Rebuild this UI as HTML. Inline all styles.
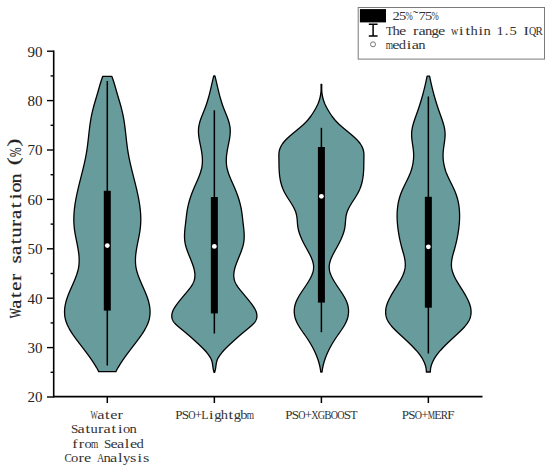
<!DOCTYPE html>
<html><head><meta charset="utf-8"><style>
html,body{margin:0;padding:0;background:#fff;width:550px;height:473px;overflow:hidden;}
svg{display:block;font-family:"Liberation Serif",serif;}
</style></head><body>
<svg width="550" height="473" viewBox="0 0 550 473">
<path d="M111.77,76.30 L111.96,76.80 L112.15,77.30 L112.34,77.80 L112.52,78.30 L112.70,78.80 L112.88,79.30 L113.05,79.80 L113.22,80.30 L113.39,80.80 L113.55,81.30 L113.71,81.80 L113.87,82.30 L114.02,82.80 L114.18,83.30 L114.33,83.80 L114.48,84.30 L114.63,84.80 L114.78,85.30 L114.92,85.80 L115.06,86.30 L115.21,86.80 L115.35,87.30 L115.49,87.80 L115.63,88.30 L115.77,88.80 L115.91,89.30 L116.06,89.80 L116.20,90.30 L116.34,90.80 L116.48,91.30 L116.62,91.80 L116.76,92.30 L116.91,92.80 L117.05,93.30 L117.20,93.80 L117.34,94.30 L117.49,94.80 L117.64,95.30 L117.79,95.80 L117.94,96.30 L118.09,96.80 L118.24,97.30 L118.39,97.80 L118.53,98.30 L118.68,98.80 L118.83,99.30 L118.98,99.80 L119.13,100.30 L119.28,100.80 L119.43,101.30 L119.58,101.80 L119.73,102.30 L119.87,102.80 L120.02,103.30 L120.16,103.80 L120.31,104.30 L120.45,104.80 L120.59,105.30 L120.73,105.80 L120.87,106.30 L121.01,106.80 L121.15,107.30 L121.28,107.80 L121.41,108.30 L121.55,108.80 L121.67,109.30 L121.80,109.80 L121.93,110.30 L122.05,110.80 L122.17,111.30 L122.29,111.80 L122.41,112.30 L122.52,112.80 L122.63,113.30 L122.74,113.80 L122.85,114.30 L122.95,114.80 L123.06,115.30 L123.16,115.80 L123.25,116.30 L123.35,116.80 L123.44,117.30 L123.53,117.80 L123.62,118.30 L123.71,118.80 L123.80,119.30 L123.88,119.80 L123.96,120.30 L124.05,120.80 L124.13,121.30 L124.20,121.80 L124.28,122.30 L124.35,122.80 L124.43,123.30 L124.50,123.80 L124.57,124.30 L124.64,124.80 L124.71,125.30 L124.77,125.80 L124.84,126.30 L124.90,126.80 L124.97,127.30 L125.03,127.80 L125.09,128.30 L125.15,128.80 L125.21,129.30 L125.27,129.80 L125.33,130.30 L125.39,130.80 L125.45,131.30 L125.51,131.80 L125.56,132.30 L125.62,132.80 L125.68,133.30 L125.73,133.80 L125.79,134.30 L125.84,134.80 L125.90,135.30 L125.95,135.80 L126.01,136.30 L126.06,136.80 L126.12,137.30 L126.17,137.80 L126.23,138.30 L126.29,138.80 L126.34,139.30 L126.40,139.80 L126.46,140.30 L126.51,140.80 L126.57,141.30 L126.63,141.80 L126.69,142.30 L126.75,142.80 L126.81,143.30 L126.87,143.80 L126.93,144.30 L126.99,144.80 L127.06,145.30 L127.12,145.80 L127.19,146.30 L127.25,146.80 L127.32,147.30 L127.39,147.80 L127.46,148.30 L127.53,148.80 L127.61,149.30 L127.68,149.80 L127.76,150.30 L127.83,150.80 L127.91,151.30 L127.99,151.80 L128.08,152.30 L128.16,152.80 L128.25,153.30 L128.33,153.80 L128.42,154.30 L128.51,154.80 L128.60,155.30 L128.70,155.80 L128.79,156.30 L128.89,156.80 L128.99,157.30 L129.09,157.80 L129.19,158.30 L129.29,158.80 L129.39,159.30 L129.50,159.80 L129.61,160.30 L129.71,160.80 L129.82,161.30 L129.93,161.80 L130.04,162.30 L130.15,162.80 L130.27,163.30 L130.38,163.80 L130.49,164.30 L130.61,164.80 L130.73,165.30 L130.84,165.80 L130.96,166.30 L131.08,166.80 L131.20,167.30 L131.32,167.80 L131.44,168.30 L131.56,168.80 L131.68,169.30 L131.81,169.80 L131.93,170.30 L132.05,170.80 L132.18,171.30 L132.30,171.80 L132.43,172.30 L132.55,172.80 L132.68,173.30 L132.80,173.80 L132.93,174.30 L133.06,174.80 L133.18,175.30 L133.31,175.80 L133.43,176.30 L133.56,176.80 L133.69,177.30 L133.81,177.80 L133.94,178.30 L134.07,178.80 L134.19,179.30 L134.32,179.80 L134.45,180.30 L134.57,180.80 L134.70,181.30 L134.82,181.80 L134.95,182.30 L135.07,182.80 L135.20,183.30 L135.32,183.80 L135.44,184.30 L135.57,184.80 L135.69,185.30 L135.81,185.80 L135.93,186.30 L136.05,186.80 L136.17,187.30 L136.29,187.80 L136.41,188.30 L136.53,188.80 L136.64,189.30 L136.76,189.80 L136.87,190.30 L136.99,190.80 L137.10,191.30 L137.21,191.80 L137.32,192.30 L137.43,192.80 L137.54,193.30 L137.65,193.80 L137.75,194.30 L137.86,194.80 L137.96,195.30 L138.07,195.80 L138.17,196.30 L138.27,196.80 L138.37,197.30 L138.46,197.80 L138.56,198.30 L138.65,198.80 L138.74,199.30 L138.84,199.80 L138.92,200.30 L139.01,200.80 L139.10,201.30 L139.18,201.80 L139.27,202.30 L139.35,202.80 L139.43,203.30 L139.50,203.80 L139.58,204.30 L139.65,204.80 L139.72,205.30 L139.79,205.80 L139.86,206.30 L139.92,206.80 L139.99,207.30 L140.05,207.80 L140.11,208.30 L140.16,208.80 L140.22,209.30 L140.27,209.80 L140.32,210.30 L140.37,210.80 L140.41,211.30 L140.45,211.80 L140.49,212.30 L140.53,212.80 L140.57,213.30 L140.60,213.80 L140.63,214.30 L140.66,214.80 L140.68,215.30 L140.70,215.80 L140.72,216.30 L140.74,216.80 L140.75,217.30 L140.76,217.80 L140.77,218.30 L140.78,218.80 L140.78,219.30 L140.78,219.80 L140.77,220.30 L140.77,220.80 L140.76,221.30 L140.74,221.80 L140.73,222.30 L140.71,222.80 L140.68,223.30 L140.66,223.80 L140.63,224.30 L140.59,224.80 L140.56,225.30 L140.52,225.80 L140.48,226.30 L140.43,226.80 L140.38,227.30 L140.33,227.80 L140.27,228.30 L140.21,228.80 L140.14,229.30 L140.08,229.80 L140.01,230.30 L139.93,230.80 L139.86,231.30 L139.78,231.80 L139.70,232.30 L139.62,232.80 L139.53,233.30 L139.45,233.80 L139.36,234.30 L139.27,234.80 L139.18,235.30 L139.08,235.80 L138.99,236.30 L138.89,236.80 L138.79,237.30 L138.70,237.80 L138.60,238.30 L138.50,238.80 L138.40,239.30 L138.30,239.80 L138.20,240.30 L138.09,240.80 L137.99,241.30 L137.89,241.80 L137.79,242.30 L137.69,242.80 L137.59,243.30 L137.49,243.80 L137.39,244.30 L137.30,244.80 L137.20,245.30 L137.10,245.80 L137.01,246.30 L136.92,246.80 L136.83,247.30 L136.74,247.80 L136.65,248.30 L136.56,248.80 L136.48,249.30 L136.40,249.80 L136.32,250.30 L136.24,250.80 L136.17,251.30 L136.10,251.80 L136.03,252.30 L135.96,252.80 L135.90,253.30 L135.84,253.80 L135.79,254.30 L135.74,254.80 L135.69,255.30 L135.64,255.80 L135.60,256.30 L135.57,256.80 L135.54,257.30 L135.51,257.80 L135.49,258.30 L135.47,258.80 L135.45,259.30 L135.44,259.80 L135.44,260.30 L135.44,260.80 L135.45,261.30 L135.46,261.80 L135.48,262.30 L135.50,262.80 L135.53,263.30 L135.57,263.80 L135.61,264.30 L135.66,264.80 L135.71,265.30 L135.77,265.80 L135.84,266.30 L135.91,266.80 L135.99,267.30 L136.08,267.80 L136.17,268.30 L136.28,268.80 L136.38,269.30 L136.50,269.80 L136.62,270.30 L136.75,270.80 L136.88,271.30 L137.02,271.80 L137.16,272.30 L137.31,272.80 L137.46,273.30 L137.62,273.80 L137.79,274.30 L137.95,274.80 L138.13,275.30 L138.30,275.80 L138.48,276.30 L138.67,276.80 L138.86,277.30 L139.05,277.80 L139.24,278.30 L139.44,278.80 L139.64,279.30 L139.85,279.80 L140.05,280.30 L140.26,280.80 L140.47,281.30 L140.68,281.80 L140.90,282.30 L141.11,282.80 L141.33,283.30 L141.55,283.80 L141.77,284.30 L141.99,284.80 L142.21,285.30 L142.43,285.80 L142.65,286.30 L142.87,286.80 L143.10,287.30 L143.32,287.80 L143.54,288.30 L143.76,288.80 L143.98,289.30 L144.19,289.80 L144.41,290.30 L144.63,290.80 L144.84,291.30 L145.05,291.80 L145.26,292.30 L145.47,292.80 L145.68,293.30 L145.88,293.80 L146.08,294.30 L146.28,294.80 L146.47,295.30 L146.67,295.80 L146.85,296.30 L147.04,296.80 L147.22,297.30 L147.39,297.80 L147.57,298.30 L147.73,298.80 L147.90,299.30 L148.06,299.80 L148.21,300.30 L148.36,300.80 L148.50,301.30 L148.64,301.80 L148.77,302.30 L148.90,302.80 L149.02,303.30 L149.13,303.80 L149.24,304.30 L149.34,304.80 L149.44,305.30 L149.52,305.80 L149.61,306.30 L149.68,306.80 L149.75,307.30 L149.81,307.80 L149.87,308.30 L149.92,308.80 L149.96,309.30 L149.99,309.80 L150.02,310.30 L150.04,310.80 L150.05,311.30 L150.06,311.80 L150.06,312.30 L150.04,312.80 L150.03,313.30 L150.00,313.80 L149.97,314.30 L149.93,314.80 L149.88,315.30 L149.82,315.80 L149.75,316.30 L149.68,316.80 L149.60,317.30 L149.51,317.80 L149.41,318.30 L149.30,318.80 L149.18,319.30 L149.05,319.80 L148.92,320.30 L148.78,320.80 L148.62,321.30 L148.46,321.80 L148.29,322.30 L148.11,322.80 L147.92,323.30 L147.72,323.80 L147.51,324.30 L147.30,324.80 L147.07,325.30 L146.84,325.80 L146.60,326.30 L146.35,326.80 L146.10,327.30 L145.83,327.80 L145.56,328.30 L145.28,328.80 L145.00,329.30 L144.71,329.80 L144.41,330.30 L144.11,330.80 L143.80,331.30 L143.49,331.80 L143.17,332.30 L142.85,332.80 L142.52,333.30 L142.18,333.80 L141.85,334.30 L141.50,334.80 L141.16,335.30 L140.81,335.80 L140.45,336.30 L140.09,336.80 L139.73,337.30 L139.37,337.80 L139.00,338.30 L138.64,338.80 L138.26,339.30 L137.89,339.80 L137.52,340.30 L137.14,340.80 L136.76,341.30 L136.38,341.80 L136.00,342.30 L135.62,342.80 L135.24,343.30 L134.86,343.80 L134.47,344.30 L134.09,344.80 L133.71,345.30 L133.32,345.80 L132.94,346.30 L132.56,346.80 L132.18,347.30 L131.79,347.80 L131.41,348.30 L131.03,348.80 L130.65,349.30 L130.27,349.80 L129.89,350.30 L129.51,350.80 L129.13,351.30 L128.75,351.80 L128.38,352.30 L128.00,352.80 L127.63,353.30 L127.26,353.80 L126.89,354.30 L126.52,354.80 L126.16,355.30 L125.79,355.80 L125.43,356.30 L125.07,356.80 L124.72,357.30 L124.36,357.80 L124.01,358.30 L123.66,358.80 L123.31,359.30 L122.97,359.80 L122.63,360.30 L122.29,360.80 L121.96,361.30 L121.62,361.80 L121.30,362.30 L120.97,362.80 L120.65,363.30 L120.33,363.80 L120.02,364.30 L119.71,364.80 L119.40,365.30 L119.10,365.80 L118.80,366.30 L118.51,366.80 L118.22,367.30 L117.93,367.80 L117.65,368.30 L117.38,368.80 L117.11,369.30 L116.84,369.80 L116.58,370.30 L116.33,370.80 L116.08,371.30 L115.93,371.60 L98.67,371.60 L98.52,371.30 L98.27,370.80 L98.02,370.30 L97.76,369.80 L97.49,369.30 L97.22,368.80 L96.95,368.30 L96.67,367.80 L96.38,367.30 L96.09,366.80 L95.80,366.30 L95.50,365.80 L95.20,365.30 L94.89,364.80 L94.58,364.30 L94.27,363.80 L93.95,363.30 L93.63,362.80 L93.30,362.30 L92.98,361.80 L92.64,361.30 L92.31,360.80 L91.97,360.30 L91.63,359.80 L91.29,359.30 L90.94,358.80 L90.59,358.30 L90.24,357.80 L89.88,357.30 L89.53,356.80 L89.17,356.30 L88.81,355.80 L88.44,355.30 L88.08,354.80 L87.71,354.30 L87.34,353.80 L86.97,353.30 L86.60,352.80 L86.22,352.30 L85.85,351.80 L85.47,351.30 L85.09,350.80 L84.71,350.30 L84.33,349.80 L83.95,349.30 L83.57,348.80 L83.19,348.30 L82.81,347.80 L82.42,347.30 L82.04,346.80 L81.66,346.30 L81.28,345.80 L80.89,345.30 L80.51,344.80 L80.13,344.30 L79.74,343.80 L79.36,343.30 L78.98,342.80 L78.60,342.30 L78.22,341.80 L77.84,341.30 L77.46,340.80 L77.08,340.30 L76.71,339.80 L76.34,339.30 L75.96,338.80 L75.60,338.30 L75.23,337.80 L74.87,337.30 L74.51,336.80 L74.15,336.30 L73.79,335.80 L73.44,335.30 L73.10,334.80 L72.75,334.30 L72.42,333.80 L72.08,333.30 L71.75,332.80 L71.43,332.30 L71.11,331.80 L70.80,331.30 L70.49,330.80 L70.19,330.30 L69.89,329.80 L69.60,329.30 L69.32,328.80 L69.04,328.30 L68.77,327.80 L68.50,327.30 L68.25,326.80 L68.00,326.30 L67.76,325.80 L67.53,325.30 L67.30,324.80 L67.09,324.30 L66.88,323.80 L66.68,323.30 L66.49,322.80 L66.31,322.30 L66.14,321.80 L65.98,321.30 L65.82,320.80 L65.68,320.30 L65.55,319.80 L65.42,319.30 L65.30,318.80 L65.19,318.30 L65.09,317.80 L65.00,317.30 L64.92,316.80 L64.85,316.30 L64.78,315.80 L64.72,315.30 L64.67,314.80 L64.63,314.30 L64.60,313.80 L64.57,313.30 L64.56,312.80 L64.54,312.30 L64.54,311.80 L64.55,311.30 L64.56,310.80 L64.58,310.30 L64.61,309.80 L64.64,309.30 L64.68,308.80 L64.73,308.30 L64.79,307.80 L64.85,307.30 L64.92,306.80 L64.99,306.30 L65.08,305.80 L65.16,305.30 L65.26,304.80 L65.36,304.30 L65.47,303.80 L65.58,303.30 L65.70,302.80 L65.83,302.30 L65.96,301.80 L66.10,301.30 L66.24,300.80 L66.39,300.30 L66.54,299.80 L66.70,299.30 L66.87,298.80 L67.03,298.30 L67.21,297.80 L67.38,297.30 L67.56,296.80 L67.75,296.30 L67.93,295.80 L68.13,295.30 L68.32,294.80 L68.52,294.30 L68.72,293.80 L68.92,293.30 L69.13,292.80 L69.34,292.30 L69.55,291.80 L69.76,291.30 L69.97,290.80 L70.19,290.30 L70.41,289.80 L70.62,289.30 L70.84,288.80 L71.06,288.30 L71.28,287.80 L71.50,287.30 L71.73,286.80 L71.95,286.30 L72.17,285.80 L72.39,285.30 L72.61,284.80 L72.83,284.30 L73.05,283.80 L73.27,283.30 L73.49,282.80 L73.70,282.30 L73.92,281.80 L74.13,281.30 L74.34,280.80 L74.55,280.30 L74.75,279.80 L74.96,279.30 L75.16,278.80 L75.36,278.30 L75.55,277.80 L75.74,277.30 L75.93,276.80 L76.12,276.30 L76.30,275.80 L76.47,275.30 L76.65,274.80 L76.81,274.30 L76.98,273.80 L77.14,273.30 L77.29,272.80 L77.44,272.30 L77.58,271.80 L77.72,271.30 L77.85,270.80 L77.98,270.30 L78.10,269.80 L78.22,269.30 L78.32,268.80 L78.43,268.30 L78.52,267.80 L78.61,267.30 L78.69,266.80 L78.76,266.30 L78.83,265.80 L78.89,265.30 L78.94,264.80 L78.99,264.30 L79.03,263.80 L79.07,263.30 L79.10,262.80 L79.12,262.30 L79.14,261.80 L79.15,261.30 L79.16,260.80 L79.16,260.30 L79.16,259.80 L79.15,259.30 L79.13,258.80 L79.11,258.30 L79.09,257.80 L79.06,257.30 L79.03,256.80 L79.00,256.30 L78.96,255.80 L78.91,255.30 L78.86,254.80 L78.81,254.30 L78.76,253.80 L78.70,253.30 L78.64,252.80 L78.57,252.30 L78.50,251.80 L78.43,251.30 L78.36,250.80 L78.28,250.30 L78.20,249.80 L78.12,249.30 L78.04,248.80 L77.95,248.30 L77.86,247.80 L77.77,247.30 L77.68,246.80 L77.59,246.30 L77.50,245.80 L77.40,245.30 L77.30,244.80 L77.21,244.30 L77.11,243.80 L77.01,243.30 L76.91,242.80 L76.81,242.30 L76.71,241.80 L76.61,241.30 L76.51,240.80 L76.40,240.30 L76.30,239.80 L76.20,239.30 L76.10,238.80 L76.00,238.30 L75.90,237.80 L75.81,237.30 L75.71,236.80 L75.61,236.30 L75.52,235.80 L75.42,235.30 L75.33,234.80 L75.24,234.30 L75.15,233.80 L75.07,233.30 L74.98,232.80 L74.90,232.30 L74.82,231.80 L74.74,231.30 L74.67,230.80 L74.59,230.30 L74.52,229.80 L74.46,229.30 L74.39,228.80 L74.33,228.30 L74.27,227.80 L74.22,227.30 L74.17,226.80 L74.12,226.30 L74.08,225.80 L74.04,225.30 L74.01,224.80 L73.97,224.30 L73.94,223.80 L73.92,223.30 L73.89,222.80 L73.87,222.30 L73.86,221.80 L73.84,221.30 L73.83,220.80 L73.83,220.30 L73.82,219.80 L73.82,219.30 L73.82,218.80 L73.83,218.30 L73.84,217.80 L73.85,217.30 L73.86,216.80 L73.88,216.30 L73.90,215.80 L73.92,215.30 L73.94,214.80 L73.97,214.30 L74.00,213.80 L74.03,213.30 L74.07,212.80 L74.11,212.30 L74.15,211.80 L74.19,211.30 L74.23,210.80 L74.28,210.30 L74.33,209.80 L74.38,209.30 L74.44,208.80 L74.49,208.30 L74.55,207.80 L74.61,207.30 L74.68,206.80 L74.74,206.30 L74.81,205.80 L74.88,205.30 L74.95,204.80 L75.02,204.30 L75.10,203.80 L75.17,203.30 L75.25,202.80 L75.33,202.30 L75.42,201.80 L75.50,201.30 L75.59,200.80 L75.68,200.30 L75.76,199.80 L75.86,199.30 L75.95,198.80 L76.04,198.30 L76.14,197.80 L76.23,197.30 L76.33,196.80 L76.43,196.30 L76.53,195.80 L76.64,195.30 L76.74,194.80 L76.85,194.30 L76.95,193.80 L77.06,193.30 L77.17,192.80 L77.28,192.30 L77.39,191.80 L77.50,191.30 L77.61,190.80 L77.73,190.30 L77.84,189.80 L77.96,189.30 L78.07,188.80 L78.19,188.30 L78.31,187.80 L78.43,187.30 L78.55,186.80 L78.67,186.30 L78.79,185.80 L78.91,185.30 L79.03,184.80 L79.16,184.30 L79.28,183.80 L79.40,183.30 L79.53,182.80 L79.65,182.30 L79.78,181.80 L79.90,181.30 L80.03,180.80 L80.15,180.30 L80.28,179.80 L80.41,179.30 L80.53,178.80 L80.66,178.30 L80.79,177.80 L80.91,177.30 L81.04,176.80 L81.17,176.30 L81.29,175.80 L81.42,175.30 L81.54,174.80 L81.67,174.30 L81.80,173.80 L81.92,173.30 L82.05,172.80 L82.17,172.30 L82.30,171.80 L82.42,171.30 L82.55,170.80 L82.67,170.30 L82.79,169.80 L82.92,169.30 L83.04,168.80 L83.16,168.30 L83.28,167.80 L83.40,167.30 L83.52,166.80 L83.64,166.30 L83.76,165.80 L83.87,165.30 L83.99,164.80 L84.11,164.30 L84.22,163.80 L84.33,163.30 L84.45,162.80 L84.56,162.30 L84.67,161.80 L84.78,161.30 L84.89,160.80 L84.99,160.30 L85.10,159.80 L85.21,159.30 L85.31,158.80 L85.41,158.30 L85.51,157.80 L85.61,157.30 L85.71,156.80 L85.81,156.30 L85.90,155.80 L86.00,155.30 L86.09,154.80 L86.18,154.30 L86.27,153.80 L86.35,153.30 L86.44,152.80 L86.52,152.30 L86.61,151.80 L86.69,151.30 L86.77,150.80 L86.84,150.30 L86.92,149.80 L86.99,149.30 L87.07,148.80 L87.14,148.30 L87.21,147.80 L87.28,147.30 L87.35,146.80 L87.41,146.30 L87.48,145.80 L87.54,145.30 L87.61,144.80 L87.67,144.30 L87.73,143.80 L87.79,143.30 L87.85,142.80 L87.91,142.30 L87.97,141.80 L88.03,141.30 L88.09,140.80 L88.14,140.30 L88.20,139.80 L88.26,139.30 L88.31,138.80 L88.37,138.30 L88.43,137.80 L88.48,137.30 L88.54,136.80 L88.59,136.30 L88.65,135.80 L88.70,135.30 L88.76,134.80 L88.81,134.30 L88.87,133.80 L88.92,133.30 L88.98,132.80 L89.04,132.30 L89.09,131.80 L89.15,131.30 L89.21,130.80 L89.27,130.30 L89.33,129.80 L89.39,129.30 L89.45,128.80 L89.51,128.30 L89.57,127.80 L89.63,127.30 L89.70,126.80 L89.76,126.30 L89.83,125.80 L89.89,125.30 L89.96,124.80 L90.03,124.30 L90.10,123.80 L90.17,123.30 L90.25,122.80 L90.32,122.30 L90.40,121.80 L90.47,121.30 L90.55,120.80 L90.64,120.30 L90.72,119.80 L90.80,119.30 L90.89,118.80 L90.98,118.30 L91.07,117.80 L91.16,117.30 L91.25,116.80 L91.35,116.30 L91.44,115.80 L91.54,115.30 L91.65,114.80 L91.75,114.30 L91.86,113.80 L91.97,113.30 L92.08,112.80 L92.19,112.30 L92.31,111.80 L92.43,111.30 L92.55,110.80 L92.67,110.30 L92.80,109.80 L92.93,109.30 L93.05,108.80 L93.19,108.30 L93.32,107.80 L93.45,107.30 L93.59,106.80 L93.73,106.30 L93.87,105.80 L94.01,105.30 L94.15,104.80 L94.29,104.30 L94.44,103.80 L94.58,103.30 L94.73,102.80 L94.87,102.30 L95.02,101.80 L95.17,101.30 L95.32,100.80 L95.47,100.30 L95.62,99.80 L95.77,99.30 L95.92,98.80 L96.07,98.30 L96.21,97.80 L96.36,97.30 L96.51,96.80 L96.66,96.30 L96.81,95.80 L96.96,95.30 L97.11,94.80 L97.26,94.30 L97.40,93.80 L97.55,93.30 L97.69,92.80 L97.84,92.30 L97.98,91.80 L98.12,91.30 L98.26,90.80 L98.40,90.30 L98.54,89.80 L98.69,89.30 L98.83,88.80 L98.97,88.30 L99.11,87.80 L99.25,87.30 L99.39,86.80 L99.54,86.30 L99.68,85.80 L99.82,85.30 L99.97,84.80 L100.12,84.30 L100.27,83.80 L100.42,83.30 L100.58,82.80 L100.73,82.30 L100.89,81.80 L101.05,81.30 L101.21,80.80 L101.38,80.30 L101.55,79.80 L101.72,79.30 L101.90,78.80 L102.08,78.30 L102.26,77.80 L102.45,77.30 L102.64,76.80 L102.83,76.30 Z" fill="#689C9C" stroke="#000" stroke-width="1.3" stroke-linejoin="round"/>
<line x1="107.30" y1="81.00" x2="107.30" y2="365.60" stroke="#000" stroke-width="1.5"/>
<rect x="103.80" y="190.80" width="7" height="119.80" fill="#000"/>
<circle cx="107.30" cy="245.60" r="2.4" fill="#fff"/>
<path d="M214.93,75.80 L215.06,76.30 L215.18,76.80 L215.30,77.30 L215.43,77.80 L215.55,78.30 L215.67,78.80 L215.79,79.30 L215.91,79.80 L216.03,80.30 L216.14,80.80 L216.26,81.30 L216.38,81.80 L216.49,82.30 L216.61,82.80 L216.72,83.30 L216.84,83.80 L216.95,84.30 L217.07,84.80 L217.18,85.30 L217.30,85.80 L217.41,86.30 L217.53,86.80 L217.64,87.30 L217.76,87.80 L217.88,88.30 L217.99,88.80 L218.11,89.30 L218.23,89.80 L218.35,90.30 L218.47,90.80 L218.59,91.30 L218.71,91.80 L218.83,92.30 L218.95,92.80 L219.08,93.30 L219.20,93.80 L219.33,94.30 L219.46,94.80 L219.59,95.30 L219.72,95.80 L219.85,96.30 L219.99,96.80 L220.12,97.30 L220.26,97.80 L220.40,98.30 L220.54,98.80 L220.68,99.30 L220.83,99.80 L220.98,100.30 L221.13,100.80 L221.28,101.30 L221.43,101.80 L221.59,102.30 L221.75,102.80 L221.91,103.30 L222.08,103.80 L222.24,104.30 L222.41,104.80 L222.58,105.30 L222.76,105.80 L222.94,106.30 L223.12,106.80 L223.30,107.30 L223.49,107.80 L223.68,108.30 L223.88,108.80 L224.07,109.30 L224.27,109.80 L224.47,110.30 L224.67,110.80 L224.87,111.30 L225.08,111.80 L225.28,112.30 L225.48,112.80 L225.69,113.30 L225.89,113.80 L226.09,114.30 L226.29,114.80 L226.49,115.30 L226.69,115.80 L226.89,116.30 L227.08,116.80 L227.27,117.30 L227.46,117.80 L227.64,118.30 L227.82,118.80 L228.00,119.30 L228.17,119.80 L228.34,120.30 L228.50,120.80 L228.66,121.30 L228.81,121.80 L228.96,122.30 L229.10,122.80 L229.23,123.30 L229.36,123.80 L229.48,124.30 L229.59,124.80 L229.69,125.30 L229.79,125.80 L229.87,126.30 L229.95,126.80 L230.02,127.30 L230.08,127.80 L230.13,128.30 L230.17,128.80 L230.20,129.30 L230.23,129.80 L230.24,130.30 L230.25,130.80 L230.25,131.30 L230.24,131.80 L230.23,132.30 L230.21,132.80 L230.18,133.30 L230.15,133.80 L230.11,134.30 L230.06,134.80 L230.01,135.30 L229.95,135.80 L229.89,136.30 L229.82,136.80 L229.75,137.30 L229.68,137.80 L229.60,138.30 L229.52,138.80 L229.43,139.30 L229.34,139.80 L229.25,140.30 L229.16,140.80 L229.06,141.30 L228.97,141.80 L228.87,142.30 L228.77,142.80 L228.67,143.30 L228.56,143.80 L228.46,144.30 L228.36,144.80 L228.26,145.30 L228.16,145.80 L228.05,146.30 L227.95,146.80 L227.86,147.30 L227.76,147.80 L227.66,148.30 L227.57,148.80 L227.48,149.30 L227.39,149.80 L227.30,150.30 L227.21,150.80 L227.13,151.30 L227.05,151.80 L226.98,152.30 L226.90,152.80 L226.83,153.30 L226.77,153.80 L226.70,154.30 L226.64,154.80 L226.59,155.30 L226.54,155.80 L226.49,156.30 L226.45,156.80 L226.41,157.30 L226.38,157.80 L226.35,158.30 L226.33,158.80 L226.31,159.30 L226.30,159.80 L226.29,160.30 L226.29,160.80 L226.30,161.30 L226.31,161.80 L226.32,162.30 L226.35,162.80 L226.38,163.30 L226.41,163.80 L226.46,164.30 L226.51,164.80 L226.57,165.30 L226.63,165.80 L226.70,166.30 L226.78,166.80 L226.87,167.30 L226.97,167.80 L227.07,168.30 L227.18,168.80 L227.30,169.30 L227.42,169.80 L227.56,170.30 L227.70,170.80 L227.84,171.30 L227.99,171.80 L228.15,172.30 L228.31,172.80 L228.48,173.30 L228.65,173.80 L228.83,174.30 L229.01,174.80 L229.20,175.30 L229.39,175.80 L229.59,176.30 L229.79,176.80 L229.99,177.30 L230.19,177.80 L230.40,178.30 L230.61,178.80 L230.83,179.30 L231.04,179.80 L231.26,180.30 L231.48,180.80 L231.70,181.30 L231.92,181.80 L232.14,182.30 L232.36,182.80 L232.58,183.30 L232.81,183.80 L233.03,184.30 L233.25,184.80 L233.47,185.30 L233.69,185.80 L233.91,186.30 L234.13,186.80 L234.35,187.30 L234.56,187.80 L234.77,188.30 L234.99,188.80 L235.19,189.30 L235.40,189.80 L235.60,190.30 L235.81,190.80 L236.01,191.30 L236.20,191.80 L236.40,192.30 L236.59,192.80 L236.78,193.30 L236.97,193.80 L237.15,194.30 L237.33,194.80 L237.51,195.30 L237.69,195.80 L237.87,196.30 L238.04,196.80 L238.21,197.30 L238.37,197.80 L238.54,198.30 L238.70,198.80 L238.85,199.30 L239.01,199.80 L239.16,200.30 L239.31,200.80 L239.45,201.30 L239.60,201.80 L239.73,202.30 L239.87,202.80 L240.00,203.30 L240.13,203.80 L240.26,204.30 L240.38,204.80 L240.50,205.30 L240.61,205.80 L240.73,206.30 L240.83,206.80 L240.94,207.30 L241.04,207.80 L241.14,208.30 L241.23,208.80 L241.32,209.30 L241.41,209.80 L241.49,210.30 L241.57,210.80 L241.65,211.30 L241.73,211.80 L241.80,212.30 L241.88,212.80 L241.95,213.30 L242.01,213.80 L242.08,214.30 L242.14,214.80 L242.21,215.30 L242.27,215.80 L242.33,216.30 L242.39,216.80 L242.45,217.30 L242.50,217.80 L242.56,218.30 L242.62,218.80 L242.67,219.30 L242.73,219.80 L242.79,220.30 L242.84,220.80 L242.90,221.30 L242.96,221.80 L243.01,222.30 L243.07,222.80 L243.13,223.30 L243.19,223.80 L243.25,224.30 L243.31,224.80 L243.37,225.30 L243.43,225.80 L243.49,226.30 L243.55,226.80 L243.60,227.30 L243.66,227.80 L243.71,228.30 L243.76,228.80 L243.81,229.30 L243.86,229.80 L243.91,230.30 L243.95,230.80 L243.99,231.30 L244.03,231.80 L244.06,232.30 L244.09,232.80 L244.12,233.30 L244.14,233.80 L244.16,234.30 L244.17,234.80 L244.18,235.30 L244.19,235.80 L244.19,236.30 L244.18,236.80 L244.17,237.30 L244.16,237.80 L244.14,238.30 L244.11,238.80 L244.07,239.30 L244.03,239.80 L243.99,240.30 L243.93,240.80 L243.87,241.30 L243.80,241.80 L243.72,242.30 L243.64,242.80 L243.55,243.30 L243.45,243.80 L243.34,244.30 L243.23,244.80 L243.11,245.30 L242.98,245.80 L242.85,246.30 L242.71,246.80 L242.57,247.30 L242.41,247.80 L242.26,248.30 L242.10,248.80 L241.94,249.30 L241.77,249.80 L241.59,250.30 L241.42,250.80 L241.24,251.30 L241.05,251.80 L240.86,252.30 L240.67,252.80 L240.48,253.30 L240.29,253.80 L240.09,254.30 L239.89,254.80 L239.69,255.30 L239.49,255.80 L239.29,256.30 L239.08,256.80 L238.88,257.30 L238.68,257.80 L238.47,258.30 L238.27,258.80 L238.06,259.30 L237.86,259.80 L237.66,260.30 L237.46,260.80 L237.26,261.30 L237.07,261.80 L236.87,262.30 L236.68,262.80 L236.49,263.30 L236.30,263.80 L236.12,264.30 L235.94,264.80 L235.77,265.30 L235.60,265.80 L235.43,266.30 L235.27,266.80 L235.12,267.30 L234.97,267.80 L234.83,268.30 L234.69,268.80 L234.57,269.30 L234.45,269.80 L234.34,270.30 L234.24,270.80 L234.14,271.30 L234.06,271.80 L233.99,272.30 L233.93,272.80 L233.87,273.30 L233.83,273.80 L233.80,274.30 L233.78,274.80 L233.78,275.30 L233.79,275.80 L233.81,276.30 L233.84,276.80 L233.89,277.30 L233.95,277.80 L234.03,278.30 L234.12,278.80 L234.22,279.30 L234.35,279.80 L234.49,280.30 L234.64,280.80 L234.81,281.30 L235.00,281.80 L235.21,282.30 L235.44,282.80 L235.68,283.30 L235.94,283.80 L236.22,284.30 L236.51,284.80 L236.82,285.30 L237.14,285.80 L237.47,286.30 L237.82,286.80 L238.18,287.30 L238.54,287.80 L238.92,288.30 L239.30,288.80 L239.69,289.30 L240.09,289.80 L240.49,290.30 L240.90,290.80 L241.31,291.30 L241.73,291.80 L242.14,292.30 L242.56,292.80 L242.98,293.30 L243.40,293.80 L243.82,294.30 L244.24,294.80 L244.66,295.30 L245.08,295.80 L245.50,296.30 L245.92,296.80 L246.33,297.30 L246.75,297.80 L247.16,298.30 L247.57,298.80 L247.98,299.30 L248.39,299.80 L248.79,300.30 L249.19,300.80 L249.59,301.30 L249.98,301.80 L250.37,302.30 L250.76,302.80 L251.14,303.30 L251.51,303.80 L251.88,304.30 L252.25,304.80 L252.60,305.30 L252.95,305.80 L253.28,306.30 L253.61,306.80 L253.93,307.30 L254.23,307.80 L254.53,308.30 L254.81,308.80 L255.07,309.30 L255.32,309.80 L255.56,310.30 L255.78,310.80 L255.98,311.30 L256.17,311.80 L256.34,312.30 L256.48,312.80 L256.61,313.30 L256.72,313.80 L256.81,314.30 L256.87,314.80 L256.91,315.30 L256.93,315.80 L256.93,316.30 L256.89,316.80 L256.84,317.30 L256.75,317.80 L256.64,318.30 L256.50,318.80 L256.33,319.30 L256.14,319.80 L255.91,320.30 L255.65,320.80 L255.36,321.30 L255.03,321.80 L254.67,322.30 L254.28,322.80 L253.86,323.30 L253.40,323.80 L252.92,324.30 L252.41,324.80 L251.89,325.30 L251.34,325.80 L250.78,326.30 L250.20,326.80 L249.61,327.30 L249.02,327.80 L248.42,328.30 L247.81,328.80 L247.21,329.30 L246.60,329.80 L245.98,330.30 L245.37,330.80 L244.76,331.30 L244.15,331.80 L243.55,332.30 L242.94,332.80 L242.35,333.30 L241.76,333.80 L241.17,334.30 L240.58,334.80 L240.01,335.30 L239.43,335.80 L238.86,336.30 L238.29,336.80 L237.72,337.30 L237.16,337.80 L236.60,338.30 L236.04,338.80 L235.49,339.30 L234.94,339.80 L234.39,340.30 L233.84,340.80 L233.29,341.30 L232.75,341.80 L232.20,342.30 L231.66,342.80 L231.12,343.30 L230.57,343.80 L230.04,344.30 L229.50,344.80 L228.97,345.30 L228.44,345.80 L227.92,346.30 L227.40,346.80 L226.88,347.30 L226.37,347.80 L225.87,348.30 L225.38,348.80 L224.89,349.30 L224.41,349.80 L223.94,350.30 L223.48,350.80 L223.03,351.30 L222.59,351.80 L222.15,352.30 L221.73,352.80 L221.32,353.30 L220.93,353.80 L220.54,354.30 L220.17,354.80 L219.82,355.30 L219.47,355.80 L219.14,356.30 L218.83,356.80 L218.53,357.30 L218.25,357.80 L217.99,358.30 L217.74,358.80 L217.51,359.30 L217.30,359.80 L217.11,360.30 L216.94,360.80 L216.78,361.30 L216.65,361.80 L216.52,362.30 L216.41,362.80 L216.32,363.30 L216.23,363.80 L216.15,364.30 L216.08,364.80 L216.01,365.30 L215.94,365.80 L215.88,366.30 L215.81,366.80 L215.74,367.30 L215.67,367.80 L215.59,368.30 L215.51,368.80 L215.41,369.30 L215.31,369.80 L215.19,370.30 L215.06,370.80 L214.91,371.30 L214.74,371.80 L214.65,372.30 L214.05,372.30 L213.96,371.80 L213.79,371.30 L213.64,370.80 L213.51,370.30 L213.39,369.80 L213.29,369.30 L213.19,368.80 L213.11,368.30 L213.03,367.80 L212.96,367.30 L212.89,366.80 L212.82,366.30 L212.76,365.80 L212.69,365.30 L212.62,364.80 L212.55,364.30 L212.47,363.80 L212.38,363.30 L212.29,362.80 L212.18,362.30 L212.05,361.80 L211.92,361.30 L211.76,360.80 L211.59,360.30 L211.40,359.80 L211.19,359.30 L210.96,358.80 L210.71,358.30 L210.45,357.80 L210.17,357.30 L209.87,356.80 L209.56,356.30 L209.23,355.80 L208.88,355.30 L208.53,354.80 L208.16,354.30 L207.77,353.80 L207.38,353.30 L206.97,352.80 L206.55,352.30 L206.11,351.80 L205.67,351.30 L205.22,350.80 L204.76,350.30 L204.29,349.80 L203.81,349.30 L203.32,348.80 L202.83,348.30 L202.33,347.80 L201.82,347.30 L201.30,346.80 L200.78,346.30 L200.26,345.80 L199.73,345.30 L199.20,344.80 L198.66,344.30 L198.13,343.80 L197.58,343.30 L197.04,342.80 L196.50,342.30 L195.95,341.80 L195.41,341.30 L194.86,340.80 L194.31,340.30 L193.76,339.80 L193.21,339.30 L192.66,338.80 L192.10,338.30 L191.54,337.80 L190.98,337.30 L190.41,336.80 L189.84,336.30 L189.27,335.80 L188.69,335.30 L188.12,334.80 L187.53,334.30 L186.94,333.80 L186.35,333.30 L185.76,332.80 L185.15,332.30 L184.55,331.80 L183.94,331.30 L183.33,330.80 L182.72,330.30 L182.10,329.80 L181.49,329.30 L180.89,328.80 L180.28,328.30 L179.68,327.80 L179.09,327.30 L178.50,326.80 L177.92,326.30 L177.36,325.80 L176.81,325.30 L176.29,324.80 L175.78,324.30 L175.30,323.80 L174.84,323.30 L174.42,322.80 L174.03,322.30 L173.67,321.80 L173.34,321.30 L173.05,320.80 L172.79,320.30 L172.56,319.80 L172.37,319.30 L172.20,318.80 L172.06,318.30 L171.95,317.80 L171.86,317.30 L171.81,316.80 L171.77,316.30 L171.77,315.80 L171.79,315.30 L171.83,314.80 L171.89,314.30 L171.98,313.80 L172.09,313.30 L172.22,312.80 L172.36,312.30 L172.53,311.80 L172.72,311.30 L172.92,310.80 L173.14,310.30 L173.38,309.80 L173.63,309.30 L173.89,308.80 L174.17,308.30 L174.47,307.80 L174.77,307.30 L175.09,306.80 L175.42,306.30 L175.75,305.80 L176.10,305.30 L176.45,304.80 L176.82,304.30 L177.19,303.80 L177.56,303.30 L177.94,302.80 L178.33,302.30 L178.72,301.80 L179.11,301.30 L179.51,300.80 L179.91,300.30 L180.31,299.80 L180.72,299.30 L181.13,298.80 L181.54,298.30 L181.95,297.80 L182.37,297.30 L182.78,296.80 L183.20,296.30 L183.62,295.80 L184.04,295.30 L184.46,294.80 L184.88,294.30 L185.30,293.80 L185.72,293.30 L186.14,292.80 L186.56,292.30 L186.97,291.80 L187.39,291.30 L187.80,290.80 L188.21,290.30 L188.61,289.80 L189.01,289.30 L189.40,288.80 L189.78,288.30 L190.16,287.80 L190.52,287.30 L190.88,286.80 L191.23,286.30 L191.56,285.80 L191.88,285.30 L192.19,284.80 L192.48,284.30 L192.76,283.80 L193.02,283.30 L193.26,282.80 L193.49,282.30 L193.70,281.80 L193.89,281.30 L194.06,280.80 L194.21,280.30 L194.35,279.80 L194.48,279.30 L194.58,278.80 L194.67,278.30 L194.75,277.80 L194.81,277.30 L194.86,276.80 L194.89,276.30 L194.91,275.80 L194.92,275.30 L194.92,274.80 L194.90,274.30 L194.87,273.80 L194.83,273.30 L194.77,272.80 L194.71,272.30 L194.64,271.80 L194.56,271.30 L194.46,270.80 L194.36,270.30 L194.25,269.80 L194.13,269.30 L194.01,268.80 L193.87,268.30 L193.73,267.80 L193.58,267.30 L193.43,266.80 L193.27,266.30 L193.10,265.80 L192.93,265.30 L192.76,264.80 L192.58,264.30 L192.40,263.80 L192.21,263.30 L192.02,262.80 L191.83,262.30 L191.63,261.80 L191.44,261.30 L191.24,260.80 L191.04,260.30 L190.84,259.80 L190.64,259.30 L190.43,258.80 L190.23,258.30 L190.02,257.80 L189.82,257.30 L189.62,256.80 L189.41,256.30 L189.21,255.80 L189.01,255.30 L188.81,254.80 L188.61,254.30 L188.41,253.80 L188.22,253.30 L188.03,252.80 L187.84,252.30 L187.65,251.80 L187.46,251.30 L187.28,250.80 L187.11,250.30 L186.93,249.80 L186.76,249.30 L186.60,248.80 L186.44,248.30 L186.29,247.80 L186.13,247.30 L185.99,246.80 L185.85,246.30 L185.72,245.80 L185.59,245.30 L185.47,244.80 L185.36,244.30 L185.25,243.80 L185.15,243.30 L185.06,242.80 L184.98,242.30 L184.90,241.80 L184.83,241.30 L184.77,240.80 L184.71,240.30 L184.67,239.80 L184.63,239.30 L184.59,238.80 L184.56,238.30 L184.54,237.80 L184.53,237.30 L184.52,236.80 L184.51,236.30 L184.51,235.80 L184.52,235.30 L184.53,234.80 L184.54,234.30 L184.56,233.80 L184.58,233.30 L184.61,232.80 L184.64,232.30 L184.67,231.80 L184.71,231.30 L184.75,230.80 L184.79,230.30 L184.84,229.80 L184.89,229.30 L184.94,228.80 L184.99,228.30 L185.04,227.80 L185.10,227.30 L185.15,226.80 L185.21,226.30 L185.27,225.80 L185.33,225.30 L185.39,224.80 L185.45,224.30 L185.51,223.80 L185.57,223.30 L185.63,222.80 L185.69,222.30 L185.74,221.80 L185.80,221.30 L185.86,220.80 L185.91,220.30 L185.97,219.80 L186.03,219.30 L186.08,218.80 L186.14,218.30 L186.20,217.80 L186.25,217.30 L186.31,216.80 L186.37,216.30 L186.43,215.80 L186.49,215.30 L186.56,214.80 L186.62,214.30 L186.69,213.80 L186.75,213.30 L186.82,212.80 L186.90,212.30 L186.97,211.80 L187.05,211.30 L187.13,210.80 L187.21,210.30 L187.29,209.80 L187.38,209.30 L187.47,208.80 L187.56,208.30 L187.66,207.80 L187.76,207.30 L187.87,206.80 L187.97,206.30 L188.09,205.80 L188.20,205.30 L188.32,204.80 L188.44,204.30 L188.57,203.80 L188.70,203.30 L188.83,202.80 L188.97,202.30 L189.10,201.80 L189.25,201.30 L189.39,200.80 L189.54,200.30 L189.69,199.80 L189.85,199.30 L190.00,198.80 L190.16,198.30 L190.33,197.80 L190.49,197.30 L190.66,196.80 L190.83,196.30 L191.01,195.80 L191.19,195.30 L191.37,194.80 L191.55,194.30 L191.73,193.80 L191.92,193.30 L192.11,192.80 L192.30,192.30 L192.50,191.80 L192.69,191.30 L192.89,190.80 L193.10,190.30 L193.30,189.80 L193.51,189.30 L193.71,188.80 L193.93,188.30 L194.14,187.80 L194.35,187.30 L194.57,186.80 L194.79,186.30 L195.01,185.80 L195.23,185.30 L195.45,184.80 L195.67,184.30 L195.89,183.80 L196.12,183.30 L196.34,182.80 L196.56,182.30 L196.78,181.80 L197.00,181.30 L197.22,180.80 L197.44,180.30 L197.66,179.80 L197.87,179.30 L198.09,178.80 L198.30,178.30 L198.51,177.80 L198.71,177.30 L198.91,176.80 L199.11,176.30 L199.31,175.80 L199.50,175.30 L199.69,174.80 L199.87,174.30 L200.05,173.80 L200.22,173.30 L200.39,172.80 L200.55,172.30 L200.71,171.80 L200.86,171.30 L201.00,170.80 L201.14,170.30 L201.28,169.80 L201.40,169.30 L201.52,168.80 L201.63,168.30 L201.73,167.80 L201.83,167.30 L201.92,166.80 L202.00,166.30 L202.07,165.80 L202.13,165.30 L202.19,164.80 L202.24,164.30 L202.29,163.80 L202.32,163.30 L202.35,162.80 L202.38,162.30 L202.39,161.80 L202.40,161.30 L202.41,160.80 L202.41,160.30 L202.40,159.80 L202.39,159.30 L202.37,158.80 L202.35,158.30 L202.32,157.80 L202.29,157.30 L202.25,156.80 L202.21,156.30 L202.16,155.80 L202.11,155.30 L202.06,154.80 L202.00,154.30 L201.93,153.80 L201.87,153.30 L201.80,152.80 L201.72,152.30 L201.65,151.80 L201.57,151.30 L201.49,150.80 L201.40,150.30 L201.31,149.80 L201.22,149.30 L201.13,148.80 L201.04,148.30 L200.94,147.80 L200.84,147.30 L200.75,146.80 L200.65,146.30 L200.54,145.80 L200.44,145.30 L200.34,144.80 L200.24,144.30 L200.14,143.80 L200.03,143.30 L199.93,142.80 L199.83,142.30 L199.73,141.80 L199.64,141.30 L199.54,140.80 L199.45,140.30 L199.36,139.80 L199.27,139.30 L199.18,138.80 L199.10,138.30 L199.02,137.80 L198.95,137.30 L198.88,136.80 L198.81,136.30 L198.75,135.80 L198.69,135.30 L198.64,134.80 L198.59,134.30 L198.55,133.80 L198.52,133.30 L198.49,132.80 L198.47,132.30 L198.46,131.80 L198.45,131.30 L198.45,130.80 L198.46,130.30 L198.47,129.80 L198.50,129.30 L198.53,128.80 L198.57,128.30 L198.62,127.80 L198.68,127.30 L198.75,126.80 L198.83,126.30 L198.91,125.80 L199.01,125.30 L199.11,124.80 L199.22,124.30 L199.34,123.80 L199.47,123.30 L199.60,122.80 L199.74,122.30 L199.89,121.80 L200.04,121.30 L200.20,120.80 L200.36,120.30 L200.53,119.80 L200.70,119.30 L200.88,118.80 L201.06,118.30 L201.24,117.80 L201.43,117.30 L201.62,116.80 L201.81,116.30 L202.01,115.80 L202.21,115.30 L202.41,114.80 L202.61,114.30 L202.81,113.80 L203.01,113.30 L203.22,112.80 L203.42,112.30 L203.62,111.80 L203.83,111.30 L204.03,110.80 L204.23,110.30 L204.43,109.80 L204.63,109.30 L204.82,108.80 L205.02,108.30 L205.21,107.80 L205.40,107.30 L205.58,106.80 L205.76,106.30 L205.94,105.80 L206.12,105.30 L206.29,104.80 L206.46,104.30 L206.62,103.80 L206.79,103.30 L206.95,102.80 L207.11,102.30 L207.27,101.80 L207.42,101.30 L207.57,100.80 L207.72,100.30 L207.87,99.80 L208.02,99.30 L208.16,98.80 L208.30,98.30 L208.44,97.80 L208.58,97.30 L208.71,96.80 L208.85,96.30 L208.98,95.80 L209.11,95.30 L209.24,94.80 L209.37,94.30 L209.50,93.80 L209.62,93.30 L209.75,92.80 L209.87,92.30 L209.99,91.80 L210.11,91.30 L210.23,90.80 L210.35,90.30 L210.47,89.80 L210.59,89.30 L210.71,88.80 L210.82,88.30 L210.94,87.80 L211.06,87.30 L211.17,86.80 L211.29,86.30 L211.40,85.80 L211.52,85.30 L211.63,84.80 L211.75,84.30 L211.86,83.80 L211.98,83.30 L212.09,82.80 L212.21,82.30 L212.32,81.80 L212.44,81.30 L212.56,80.80 L212.67,80.30 L212.79,79.80 L212.91,79.30 L213.03,78.80 L213.15,78.30 L213.27,77.80 L213.40,77.30 L213.52,76.80 L213.64,76.30 L213.77,75.80 Z" fill="#689C9C" stroke="#000" stroke-width="1.3" stroke-linejoin="round"/>
<line x1="214.35" y1="110.30" x2="214.35" y2="333.50" stroke="#000" stroke-width="1.5"/>
<rect x="210.85" y="197.00" width="7" height="116.40" fill="#000"/>
<circle cx="214.35" cy="246.40" r="2.4" fill="#fff"/>
<path d="M321.77,84.50 L321.74,85.00 L321.72,85.50 L321.70,86.00 L321.70,86.50 L321.70,87.00 L321.70,87.50 L321.70,88.00 L321.70,88.50 L321.70,89.00 L321.70,89.50 L321.71,90.00 L321.74,90.50 L321.77,91.00 L321.81,91.50 L321.85,92.00 L321.90,92.50 L321.95,93.00 L322.02,93.50 L322.08,94.00 L322.16,94.50 L322.24,95.00 L322.32,95.50 L322.42,96.00 L322.52,96.50 L322.63,97.00 L322.74,97.50 L322.86,98.00 L322.99,98.50 L323.13,99.00 L323.27,99.50 L323.42,100.00 L323.58,100.50 L323.75,101.00 L323.92,101.50 L324.10,102.00 L324.29,102.50 L324.49,103.00 L324.70,103.50 L324.91,104.00 L325.14,104.50 L325.36,105.00 L325.60,105.50 L325.84,106.00 L326.09,106.50 L326.35,107.00 L326.61,107.50 L326.88,108.00 L327.16,108.50 L327.44,109.00 L327.72,109.50 L328.01,110.00 L328.31,110.50 L328.61,111.00 L328.91,111.50 L329.22,112.00 L329.54,112.50 L329.85,113.00 L330.17,113.50 L330.50,114.00 L330.83,114.50 L331.17,115.00 L331.51,115.50 L331.86,116.00 L332.22,116.50 L332.59,117.00 L332.96,117.50 L333.35,118.00 L333.74,118.50 L334.14,119.00 L334.55,119.50 L334.98,120.00 L335.41,120.50 L335.86,121.00 L336.32,121.50 L336.79,122.00 L337.27,122.50 L337.77,123.00 L338.28,123.50 L338.81,124.00 L339.34,124.50 L339.89,125.00 L340.44,125.50 L341.01,126.00 L341.58,126.50 L342.16,127.00 L342.75,127.50 L343.34,128.00 L343.93,128.50 L344.53,129.00 L345.14,129.50 L345.75,130.00 L346.35,130.50 L346.96,131.00 L347.57,131.50 L348.18,132.00 L348.79,132.50 L349.39,133.00 L349.99,133.50 L350.59,134.00 L351.18,134.50 L351.77,135.00 L352.35,135.50 L352.92,136.00 L353.48,136.50 L354.04,137.00 L354.59,137.50 L355.12,138.00 L355.65,138.50 L356.16,139.00 L356.66,139.50 L357.14,140.00 L357.61,140.50 L358.07,141.00 L358.51,141.50 L358.93,142.00 L359.33,142.50 L359.72,143.00 L360.09,143.50 L360.44,144.00 L360.77,144.50 L361.08,145.00 L361.38,145.50 L361.66,146.00 L361.92,146.50 L362.16,147.00 L362.39,147.50 L362.60,148.00 L362.79,148.50 L362.97,149.00 L363.13,149.50 L363.28,150.00 L363.41,150.50 L363.52,151.00 L363.62,151.50 L363.71,152.00 L363.77,152.50 L363.83,153.00 L363.87,153.50 L363.90,154.00 L363.92,154.50 L363.93,155.00 L363.93,155.50 L363.93,156.00 L363.92,156.50 L363.91,157.00 L363.90,157.50 L363.90,158.00 L363.89,158.50 L363.88,159.00 L363.88,159.50 L363.87,160.00 L363.87,160.50 L363.86,161.00 L363.86,161.50 L363.85,162.00 L363.85,162.50 L363.84,163.00 L363.83,163.50 L363.83,164.00 L363.82,164.50 L363.81,165.00 L363.80,165.50 L363.79,166.00 L363.78,166.50 L363.77,167.00 L363.75,167.50 L363.73,168.00 L363.72,168.50 L363.70,169.00 L363.67,169.50 L363.65,170.00 L363.62,170.50 L363.59,171.00 L363.56,171.50 L363.53,172.00 L363.49,172.50 L363.45,173.00 L363.41,173.50 L363.36,174.00 L363.31,174.50 L363.26,175.00 L363.20,175.50 L363.14,176.00 L363.08,176.50 L363.01,177.00 L362.94,177.50 L362.86,178.00 L362.78,178.50 L362.69,179.00 L362.60,179.50 L362.51,180.00 L362.41,180.50 L362.30,181.00 L362.19,181.50 L362.08,182.00 L361.96,182.50 L361.83,183.00 L361.70,183.50 L361.56,184.00 L361.42,184.50 L361.27,185.00 L361.11,185.50 L360.95,186.00 L360.78,186.50 L360.60,187.00 L360.42,187.50 L360.23,188.00 L360.04,188.50 L359.83,189.00 L359.62,189.50 L359.41,190.00 L359.18,190.50 L358.95,191.00 L358.71,191.50 L358.46,192.00 L358.20,192.50 L357.94,193.00 L357.67,193.50 L357.39,194.00 L357.10,194.50 L356.81,195.00 L356.51,195.50 L356.21,196.00 L355.90,196.50 L355.59,197.00 L355.28,197.50 L354.96,198.00 L354.64,198.50 L354.32,199.00 L354.00,199.50 L353.68,200.00 L353.35,200.50 L353.03,201.00 L352.71,201.50 L352.39,202.00 L352.07,202.50 L351.76,203.00 L351.44,203.50 L351.13,204.00 L350.83,204.50 L350.53,205.00 L350.23,205.50 L349.94,206.00 L349.66,206.50 L349.38,207.00 L349.11,207.50 L348.85,208.00 L348.60,208.50 L348.36,209.00 L348.12,209.50 L347.90,210.00 L347.68,210.50 L347.48,211.00 L347.29,211.50 L347.11,212.00 L346.94,212.50 L346.78,213.00 L346.64,213.50 L346.51,214.00 L346.39,214.50 L346.28,215.00 L346.18,215.50 L346.09,216.00 L346.01,216.50 L345.94,217.00 L345.87,217.50 L345.81,218.00 L345.75,218.50 L345.70,219.00 L345.65,219.50 L345.61,220.00 L345.56,220.50 L345.52,221.00 L345.49,221.50 L345.45,222.00 L345.41,222.50 L345.37,223.00 L345.33,223.50 L345.28,224.00 L345.24,224.50 L345.19,225.00 L345.13,225.50 L345.07,226.00 L345.00,226.50 L344.93,227.00 L344.85,227.50 L344.76,228.00 L344.67,228.50 L344.56,229.00 L344.45,229.50 L344.33,230.00 L344.21,230.50 L344.07,231.00 L343.93,231.50 L343.79,232.00 L343.64,232.50 L343.48,233.00 L343.31,233.50 L343.14,234.00 L342.96,234.50 L342.78,235.00 L342.59,235.50 L342.40,236.00 L342.20,236.50 L341.99,237.00 L341.78,237.50 L341.57,238.00 L341.35,238.50 L341.12,239.00 L340.90,239.50 L340.66,240.00 L340.43,240.50 L340.19,241.00 L339.95,241.50 L339.70,242.00 L339.45,242.50 L339.20,243.00 L338.94,243.50 L338.68,244.00 L338.42,244.50 L338.15,245.00 L337.89,245.50 L337.62,246.00 L337.35,246.50 L337.08,247.00 L336.80,247.50 L336.52,248.00 L336.25,248.50 L335.97,249.00 L335.69,249.50 L335.41,250.00 L335.14,250.50 L334.86,251.00 L334.59,251.50 L334.31,252.00 L334.04,252.50 L333.78,253.00 L333.51,253.50 L333.25,254.00 L332.99,254.50 L332.74,255.00 L332.50,255.50 L332.25,256.00 L332.02,256.50 L331.79,257.00 L331.57,257.50 L331.35,258.00 L331.14,258.50 L330.94,259.00 L330.75,259.50 L330.57,260.00 L330.39,260.50 L330.23,261.00 L330.08,261.50 L329.93,262.00 L329.80,262.50 L329.68,263.00 L329.57,263.50 L329.48,264.00 L329.39,264.50 L329.32,265.00 L329.27,265.50 L329.22,266.00 L329.20,266.50 L329.18,267.00 L329.19,267.50 L329.20,268.00 L329.24,268.50 L329.29,269.00 L329.35,269.50 L329.43,270.00 L329.52,270.50 L329.62,271.00 L329.74,271.50 L329.87,272.00 L330.02,272.50 L330.17,273.00 L330.34,273.50 L330.52,274.00 L330.71,274.50 L330.91,275.00 L331.11,275.50 L331.33,276.00 L331.56,276.50 L331.80,277.00 L332.05,277.50 L332.30,278.00 L332.56,278.50 L332.83,279.00 L333.11,279.50 L333.40,280.00 L333.69,280.50 L333.98,281.00 L334.28,281.50 L334.59,282.00 L334.90,282.50 L335.22,283.00 L335.54,283.50 L335.86,284.00 L336.19,284.50 L336.52,285.00 L336.85,285.50 L337.18,286.00 L337.52,286.50 L337.86,287.00 L338.20,287.50 L338.54,288.00 L338.88,288.50 L339.21,289.00 L339.55,289.50 L339.89,290.00 L340.23,290.50 L340.56,291.00 L340.90,291.50 L341.23,292.00 L341.55,292.50 L341.88,293.00 L342.20,293.50 L342.52,294.00 L342.83,294.50 L343.14,295.00 L343.44,295.50 L343.74,296.00 L344.03,296.50 L344.32,297.00 L344.59,297.50 L344.87,298.00 L345.13,298.50 L345.39,299.00 L345.64,299.50 L345.88,300.00 L346.11,300.50 L346.33,301.00 L346.54,301.50 L346.74,302.00 L346.94,302.50 L347.12,303.00 L347.29,303.50 L347.45,304.00 L347.60,304.50 L347.74,305.00 L347.86,305.50 L347.98,306.00 L348.09,306.50 L348.18,307.00 L348.27,307.50 L348.34,308.00 L348.40,308.50 L348.46,309.00 L348.50,309.50 L348.53,310.00 L348.55,310.50 L348.56,311.00 L348.56,311.50 L348.55,312.00 L348.53,312.50 L348.50,313.00 L348.45,313.50 L348.40,314.00 L348.34,314.50 L348.26,315.00 L348.18,315.50 L348.08,316.00 L347.98,316.50 L347.86,317.00 L347.73,317.50 L347.60,318.00 L347.45,318.50 L347.29,319.00 L347.12,319.50 L346.94,320.00 L346.75,320.50 L346.55,321.00 L346.34,321.50 L346.12,322.00 L345.89,322.50 L345.65,323.00 L345.40,323.50 L345.14,324.00 L344.87,324.50 L344.59,325.00 L344.30,325.50 L344.01,326.00 L343.71,326.50 L343.40,327.00 L343.08,327.50 L342.76,328.00 L342.44,328.50 L342.11,329.00 L341.77,329.50 L341.44,330.00 L341.09,330.50 L340.75,331.00 L340.40,331.50 L340.05,332.00 L339.70,332.50 L339.35,333.00 L339.00,333.50 L338.64,334.00 L338.29,334.50 L337.94,335.00 L337.59,335.50 L337.24,336.00 L336.89,336.50 L336.55,337.00 L336.20,337.50 L335.87,338.00 L335.53,338.50 L335.20,339.00 L334.87,339.50 L334.55,340.00 L334.23,340.50 L333.91,341.00 L333.60,341.50 L333.29,342.00 L332.98,342.50 L332.68,343.00 L332.38,343.50 L332.08,344.00 L331.79,344.50 L331.50,345.00 L331.22,345.50 L330.94,346.00 L330.66,346.50 L330.39,347.00 L330.12,347.50 L329.86,348.00 L329.60,348.50 L329.34,349.00 L329.09,349.50 L328.84,350.00 L328.59,350.50 L328.35,351.00 L328.11,351.50 L327.88,352.00 L327.65,352.50 L327.42,353.00 L327.20,353.50 L326.98,354.00 L326.77,354.50 L326.56,355.00 L326.36,355.50 L326.16,356.00 L325.96,356.50 L325.77,357.00 L325.58,357.50 L325.40,358.00 L325.22,358.50 L325.04,359.00 L324.87,359.50 L324.70,360.00 L324.54,360.50 L324.38,361.00 L324.23,361.50 L324.08,362.00 L323.93,362.50 L323.79,363.00 L323.66,363.50 L323.53,364.00 L323.40,364.50 L323.28,365.00 L323.16,365.50 L323.04,366.00 L322.94,366.50 L322.83,367.00 L322.73,367.50 L322.64,368.00 L322.54,368.50 L322.46,369.00 L322.38,369.50 L322.30,370.00 L322.23,370.50 L322.16,371.00 L322.10,371.50 L322.04,372.00 L320.76,372.00 L320.70,371.50 L320.64,371.00 L320.57,370.50 L320.50,370.00 L320.42,369.50 L320.34,369.00 L320.26,368.50 L320.16,368.00 L320.07,367.50 L319.97,367.00 L319.86,366.50 L319.76,366.00 L319.64,365.50 L319.52,365.00 L319.40,364.50 L319.27,364.00 L319.14,363.50 L319.01,363.00 L318.87,362.50 L318.72,362.00 L318.57,361.50 L318.42,361.00 L318.26,360.50 L318.10,360.00 L317.93,359.50 L317.76,359.00 L317.58,358.50 L317.40,358.00 L317.22,357.50 L317.03,357.00 L316.84,356.50 L316.64,356.00 L316.44,355.50 L316.24,355.00 L316.03,354.50 L315.82,354.00 L315.60,353.50 L315.38,353.00 L315.15,352.50 L314.92,352.00 L314.69,351.50 L314.45,351.00 L314.21,350.50 L313.96,350.00 L313.71,349.50 L313.46,349.00 L313.20,348.50 L312.94,348.00 L312.68,347.50 L312.41,347.00 L312.14,346.50 L311.86,346.00 L311.58,345.50 L311.30,345.00 L311.01,344.50 L310.72,344.00 L310.42,343.50 L310.12,343.00 L309.82,342.50 L309.51,342.00 L309.20,341.50 L308.89,341.00 L308.57,340.50 L308.25,340.00 L307.93,339.50 L307.60,339.00 L307.27,338.50 L306.93,338.00 L306.60,337.50 L306.25,337.00 L305.91,336.50 L305.56,336.00 L305.21,335.50 L304.86,335.00 L304.51,334.50 L304.16,334.00 L303.80,333.50 L303.45,333.00 L303.10,332.50 L302.75,332.00 L302.40,331.50 L302.05,331.00 L301.71,330.50 L301.36,330.00 L301.03,329.50 L300.69,329.00 L300.36,328.50 L300.04,328.00 L299.72,327.50 L299.40,327.00 L299.09,326.50 L298.79,326.00 L298.50,325.50 L298.21,325.00 L297.93,324.50 L297.66,324.00 L297.40,323.50 L297.15,323.00 L296.91,322.50 L296.68,322.00 L296.46,321.50 L296.25,321.00 L296.05,320.50 L295.86,320.00 L295.68,319.50 L295.51,319.00 L295.35,318.50 L295.20,318.00 L295.07,317.50 L294.94,317.00 L294.82,316.50 L294.72,316.00 L294.62,315.50 L294.54,315.00 L294.46,314.50 L294.40,314.00 L294.35,313.50 L294.30,313.00 L294.27,312.50 L294.25,312.00 L294.24,311.50 L294.24,311.00 L294.25,310.50 L294.27,310.00 L294.30,309.50 L294.34,309.00 L294.40,308.50 L294.46,308.00 L294.53,307.50 L294.62,307.00 L294.71,306.50 L294.82,306.00 L294.94,305.50 L295.06,305.00 L295.20,304.50 L295.35,304.00 L295.51,303.50 L295.68,303.00 L295.86,302.50 L296.06,302.00 L296.26,301.50 L296.47,301.00 L296.69,300.50 L296.92,300.00 L297.16,299.50 L297.41,299.00 L297.67,298.50 L297.93,298.00 L298.21,297.50 L298.48,297.00 L298.77,296.50 L299.06,296.00 L299.36,295.50 L299.66,295.00 L299.97,294.50 L300.28,294.00 L300.60,293.50 L300.92,293.00 L301.25,292.50 L301.57,292.00 L301.90,291.50 L302.24,291.00 L302.57,290.50 L302.91,290.00 L303.25,289.50 L303.59,289.00 L303.92,288.50 L304.26,288.00 L304.60,287.50 L304.94,287.00 L305.28,286.50 L305.62,286.00 L305.95,285.50 L306.28,285.00 L306.61,284.50 L306.94,284.00 L307.26,283.50 L307.58,283.00 L307.90,282.50 L308.21,282.00 L308.52,281.50 L308.82,281.00 L309.11,280.50 L309.40,280.00 L309.69,279.50 L309.97,279.00 L310.24,278.50 L310.50,278.00 L310.75,277.50 L311.00,277.00 L311.24,276.50 L311.47,276.00 L311.69,275.50 L311.89,275.00 L312.09,274.50 L312.28,274.00 L312.46,273.50 L312.63,273.00 L312.78,272.50 L312.93,272.00 L313.06,271.50 L313.18,271.00 L313.28,270.50 L313.37,270.00 L313.45,269.50 L313.51,269.00 L313.56,268.50 L313.60,268.00 L313.61,267.50 L313.62,267.00 L313.60,266.50 L313.58,266.00 L313.53,265.50 L313.48,265.00 L313.41,264.50 L313.32,264.00 L313.23,263.50 L313.12,263.00 L313.00,262.50 L312.87,262.00 L312.72,261.50 L312.57,261.00 L312.41,260.50 L312.23,260.00 L312.05,259.50 L311.86,259.00 L311.66,258.50 L311.45,258.00 L311.23,257.50 L311.01,257.00 L310.78,256.50 L310.55,256.00 L310.30,255.50 L310.06,255.00 L309.81,254.50 L309.55,254.00 L309.29,253.50 L309.02,253.00 L308.76,252.50 L308.49,252.00 L308.21,251.50 L307.94,251.00 L307.66,250.50 L307.39,250.00 L307.11,249.50 L306.83,249.00 L306.55,248.50 L306.28,248.00 L306.00,247.50 L305.72,247.00 L305.45,246.50 L305.18,246.00 L304.91,245.50 L304.65,245.00 L304.38,244.50 L304.12,244.00 L303.86,243.50 L303.60,243.00 L303.35,242.50 L303.10,242.00 L302.85,241.50 L302.61,241.00 L302.37,240.50 L302.14,240.00 L301.90,239.50 L301.68,239.00 L301.45,238.50 L301.23,238.00 L301.02,237.50 L300.81,237.00 L300.60,236.50 L300.40,236.00 L300.21,235.50 L300.02,235.00 L299.84,234.50 L299.66,234.00 L299.49,233.50 L299.32,233.00 L299.16,232.50 L299.01,232.00 L298.87,231.50 L298.73,231.00 L298.59,230.50 L298.47,230.00 L298.35,229.50 L298.24,229.00 L298.13,228.50 L298.04,228.00 L297.95,227.50 L297.87,227.00 L297.80,226.50 L297.73,226.00 L297.67,225.50 L297.61,225.00 L297.56,224.50 L297.52,224.00 L297.47,223.50 L297.43,223.00 L297.39,222.50 L297.35,222.00 L297.31,221.50 L297.28,221.00 L297.24,220.50 L297.19,220.00 L297.15,219.50 L297.10,219.00 L297.05,218.50 L296.99,218.00 L296.93,217.50 L296.86,217.00 L296.79,216.50 L296.71,216.00 L296.62,215.50 L296.52,215.00 L296.41,214.50 L296.29,214.00 L296.16,213.50 L296.02,213.00 L295.86,212.50 L295.69,212.00 L295.51,211.50 L295.32,211.00 L295.12,210.50 L294.90,210.00 L294.68,209.50 L294.44,209.00 L294.20,208.50 L293.95,208.00 L293.69,207.50 L293.42,207.00 L293.14,206.50 L292.86,206.00 L292.57,205.50 L292.27,205.00 L291.97,204.50 L291.67,204.00 L291.36,203.50 L291.04,203.00 L290.73,202.50 L290.41,202.00 L290.09,201.50 L289.77,201.00 L289.45,200.50 L289.12,200.00 L288.80,199.50 L288.48,199.00 L288.16,198.50 L287.84,198.00 L287.52,197.50 L287.21,197.00 L286.90,196.50 L286.59,196.00 L286.29,195.50 L285.99,195.00 L285.70,194.50 L285.41,194.00 L285.13,193.50 L284.86,193.00 L284.60,192.50 L284.34,192.00 L284.09,191.50 L283.85,191.00 L283.62,190.50 L283.39,190.00 L283.18,189.50 L282.97,189.00 L282.76,188.50 L282.57,188.00 L282.38,187.50 L282.20,187.00 L282.02,186.50 L281.85,186.00 L281.69,185.50 L281.53,185.00 L281.38,184.50 L281.24,184.00 L281.10,183.50 L280.97,183.00 L280.84,182.50 L280.72,182.00 L280.61,181.50 L280.50,181.00 L280.39,180.50 L280.29,180.00 L280.20,179.50 L280.11,179.00 L280.02,178.50 L279.94,178.00 L279.86,177.50 L279.79,177.00 L279.72,176.50 L279.66,176.00 L279.60,175.50 L279.54,175.00 L279.49,174.50 L279.44,174.00 L279.39,173.50 L279.35,173.00 L279.31,172.50 L279.27,172.00 L279.24,171.50 L279.21,171.00 L279.18,170.50 L279.15,170.00 L279.13,169.50 L279.10,169.00 L279.08,168.50 L279.07,168.00 L279.05,167.50 L279.03,167.00 L279.02,166.50 L279.01,166.00 L279.00,165.50 L278.99,165.00 L278.98,164.50 L278.97,164.00 L278.97,163.50 L278.96,163.00 L278.95,162.50 L278.95,162.00 L278.94,161.50 L278.94,161.00 L278.93,160.50 L278.93,160.00 L278.92,159.50 L278.92,159.00 L278.91,158.50 L278.90,158.00 L278.90,157.50 L278.89,157.00 L278.88,156.50 L278.87,156.00 L278.87,155.50 L278.87,155.00 L278.88,154.50 L278.90,154.00 L278.93,153.50 L278.97,153.00 L279.03,152.50 L279.09,152.00 L279.18,151.50 L279.28,151.00 L279.39,150.50 L279.52,150.00 L279.67,149.50 L279.83,149.00 L280.01,148.50 L280.20,148.00 L280.41,147.50 L280.64,147.00 L280.88,146.50 L281.14,146.00 L281.42,145.50 L281.72,145.00 L282.03,144.50 L282.36,144.00 L282.71,143.50 L283.08,143.00 L283.47,142.50 L283.87,142.00 L284.29,141.50 L284.73,141.00 L285.19,140.50 L285.66,140.00 L286.14,139.50 L286.64,139.00 L287.15,138.50 L287.68,138.00 L288.21,137.50 L288.76,137.00 L289.32,136.50 L289.88,136.00 L290.45,135.50 L291.03,135.00 L291.62,134.50 L292.21,134.00 L292.81,133.50 L293.41,133.00 L294.01,132.50 L294.62,132.00 L295.23,131.50 L295.84,131.00 L296.45,130.50 L297.05,130.00 L297.66,129.50 L298.27,129.00 L298.87,128.50 L299.46,128.00 L300.05,127.50 L300.64,127.00 L301.22,126.50 L301.79,126.00 L302.36,125.50 L302.91,125.00 L303.46,124.50 L303.99,124.00 L304.52,123.50 L305.03,123.00 L305.53,122.50 L306.01,122.00 L306.48,121.50 L306.94,121.00 L307.39,120.50 L307.82,120.00 L308.25,119.50 L308.66,119.00 L309.06,118.50 L309.45,118.00 L309.84,117.50 L310.21,117.00 L310.58,116.50 L310.94,116.00 L311.29,115.50 L311.63,115.00 L311.97,114.50 L312.30,114.00 L312.63,113.50 L312.95,113.00 L313.26,112.50 L313.58,112.00 L313.89,111.50 L314.19,111.00 L314.49,110.50 L314.79,110.00 L315.08,109.50 L315.36,109.00 L315.64,108.50 L315.92,108.00 L316.19,107.50 L316.45,107.00 L316.71,106.50 L316.96,106.00 L317.20,105.50 L317.44,105.00 L317.66,104.50 L317.89,104.00 L318.10,103.50 L318.31,103.00 L318.51,102.50 L318.70,102.00 L318.88,101.50 L319.05,101.00 L319.22,100.50 L319.38,100.00 L319.53,99.50 L319.67,99.00 L319.81,98.50 L319.94,98.00 L320.06,97.50 L320.17,97.00 L320.28,96.50 L320.38,96.00 L320.48,95.50 L320.56,95.00 L320.64,94.50 L320.72,94.00 L320.78,93.50 L320.85,93.00 L320.90,92.50 L320.95,92.00 L320.99,91.50 L321.03,91.00 L321.06,90.50 L321.09,90.00 L321.10,89.50 L321.10,89.00 L321.10,88.50 L321.10,88.00 L321.10,87.50 L321.10,87.00 L321.10,86.50 L321.10,86.00 L321.08,85.50 L321.06,85.00 L321.03,84.50 Z" fill="#689C9C" stroke="#000" stroke-width="1.3" stroke-linejoin="round"/>
<line x1="321.40" y1="127.80" x2="321.40" y2="332.20" stroke="#000" stroke-width="1.5"/>
<rect x="317.90" y="147.00" width="7" height="155.60" fill="#000"/>
<circle cx="321.40" cy="196.30" r="2.4" fill="#fff"/>
<path d="M429.60,76.20 L429.70,76.70 L429.80,77.20 L429.90,77.70 L430.00,78.20 L430.10,78.70 L430.20,79.20 L430.31,79.70 L430.42,80.20 L430.52,80.70 L430.63,81.20 L430.74,81.70 L430.85,82.20 L430.96,82.70 L431.07,83.20 L431.19,83.70 L431.30,84.20 L431.41,84.70 L431.53,85.20 L431.65,85.70 L431.77,86.20 L431.89,86.70 L432.01,87.20 L432.13,87.70 L432.25,88.20 L432.38,88.70 L432.50,89.20 L432.63,89.70 L432.75,90.20 L432.88,90.70 L433.01,91.20 L433.14,91.70 L433.27,92.20 L433.41,92.70 L433.54,93.20 L433.67,93.70 L433.81,94.20 L433.95,94.70 L434.09,95.20 L434.23,95.70 L434.37,96.20 L434.51,96.70 L434.65,97.20 L434.79,97.70 L434.94,98.20 L435.08,98.70 L435.23,99.20 L435.38,99.70 L435.53,100.20 L435.68,100.70 L435.83,101.20 L435.98,101.70 L436.14,102.20 L436.29,102.70 L436.45,103.20 L436.60,103.70 L436.76,104.20 L436.92,104.70 L437.08,105.20 L437.24,105.70 L437.41,106.20 L437.57,106.70 L437.74,107.20 L437.90,107.70 L438.07,108.20 L438.24,108.70 L438.41,109.20 L438.58,109.70 L438.75,110.20 L438.92,110.70 L439.10,111.20 L439.27,111.70 L439.45,112.20 L439.63,112.70 L439.80,113.20 L439.98,113.70 L440.16,114.20 L440.34,114.70 L440.52,115.20 L440.71,115.70 L440.89,116.20 L441.06,116.70 L441.24,117.20 L441.42,117.70 L441.60,118.20 L441.77,118.70 L441.94,119.20 L442.11,119.70 L442.28,120.20 L442.45,120.70 L442.61,121.20 L442.77,121.70 L442.93,122.20 L443.08,122.70 L443.23,123.20 L443.37,123.70 L443.51,124.20 L443.65,124.70 L443.78,125.20 L443.91,125.70 L444.03,126.20 L444.15,126.70 L444.26,127.20 L444.36,127.70 L444.46,128.20 L444.55,128.70 L444.64,129.20 L444.72,129.70 L444.79,130.20 L444.85,130.70 L444.91,131.20 L444.96,131.70 L445.00,132.20 L445.03,132.70 L445.05,133.20 L445.07,133.70 L445.08,134.20 L445.08,134.70 L445.07,135.20 L445.06,135.70 L445.04,136.20 L445.01,136.70 L444.98,137.20 L444.95,137.70 L444.90,138.20 L444.86,138.70 L444.81,139.20 L444.76,139.70 L444.70,140.20 L444.64,140.70 L444.58,141.20 L444.51,141.70 L444.44,142.20 L444.37,142.70 L444.30,143.20 L444.23,143.70 L444.16,144.20 L444.09,144.70 L444.01,145.20 L443.94,145.70 L443.87,146.20 L443.80,146.70 L443.73,147.20 L443.66,147.70 L443.59,148.20 L443.53,148.70 L443.47,149.20 L443.41,149.70 L443.35,150.20 L443.30,150.70 L443.25,151.20 L443.21,151.70 L443.17,152.20 L443.14,152.70 L443.11,153.20 L443.09,153.70 L443.07,154.20 L443.06,154.70 L443.06,155.20 L443.06,155.70 L443.06,156.20 L443.07,156.70 L443.09,157.20 L443.11,157.70 L443.13,158.20 L443.17,158.70 L443.20,159.20 L443.25,159.70 L443.29,160.20 L443.35,160.70 L443.41,161.20 L443.47,161.70 L443.54,162.20 L443.62,162.70 L443.70,163.20 L443.79,163.70 L443.88,164.20 L443.98,164.70 L444.08,165.20 L444.19,165.70 L444.30,166.20 L444.42,166.70 L444.55,167.20 L444.68,167.70 L444.82,168.20 L444.96,168.70 L445.11,169.20 L445.26,169.70 L445.42,170.20 L445.59,170.70 L445.76,171.20 L445.93,171.70 L446.12,172.20 L446.30,172.70 L446.50,173.20 L446.70,173.70 L446.90,174.20 L447.11,174.70 L447.32,175.20 L447.54,175.70 L447.76,176.20 L447.99,176.70 L448.22,177.20 L448.45,177.70 L448.68,178.20 L448.92,178.70 L449.16,179.20 L449.40,179.70 L449.64,180.20 L449.89,180.70 L450.13,181.20 L450.38,181.70 L450.63,182.20 L450.88,182.70 L451.12,183.20 L451.37,183.70 L451.62,184.20 L451.87,184.70 L452.11,185.20 L452.36,185.70 L452.60,186.20 L452.84,186.70 L453.08,187.20 L453.31,187.70 L453.55,188.20 L453.78,188.70 L454.01,189.20 L454.23,189.70 L454.45,190.20 L454.67,190.70 L454.88,191.20 L455.09,191.70 L455.29,192.20 L455.49,192.70 L455.68,193.20 L455.86,193.70 L456.05,194.20 L456.22,194.70 L456.39,195.20 L456.56,195.70 L456.72,196.20 L456.88,196.70 L457.03,197.20 L457.17,197.70 L457.31,198.20 L457.45,198.70 L457.58,199.20 L457.71,199.70 L457.83,200.20 L457.95,200.70 L458.06,201.20 L458.17,201.70 L458.28,202.20 L458.38,202.70 L458.47,203.20 L458.57,203.70 L458.65,204.20 L458.74,204.70 L458.82,205.20 L458.89,205.70 L458.96,206.20 L459.03,206.70 L459.09,207.20 L459.15,207.70 L459.20,208.20 L459.26,208.70 L459.30,209.20 L459.35,209.70 L459.39,210.20 L459.42,210.70 L459.46,211.20 L459.49,211.70 L459.51,212.20 L459.53,212.70 L459.55,213.20 L459.57,213.70 L459.58,214.20 L459.59,214.70 L459.60,215.20 L459.60,215.70 L459.60,216.20 L459.60,216.70 L459.59,217.20 L459.58,217.70 L459.57,218.20 L459.55,218.70 L459.54,219.20 L459.52,219.70 L459.49,220.20 L459.47,220.70 L459.44,221.20 L459.41,221.70 L459.37,222.20 L459.34,222.70 L459.30,223.20 L459.26,223.70 L459.21,224.20 L459.17,224.70 L459.12,225.20 L459.07,225.70 L459.02,226.20 L458.97,226.70 L458.91,227.20 L458.85,227.70 L458.79,228.20 L458.73,228.70 L458.67,229.20 L458.60,229.70 L458.53,230.20 L458.46,230.70 L458.39,231.20 L458.32,231.70 L458.24,232.20 L458.16,232.70 L458.08,233.20 L458.00,233.70 L457.92,234.20 L457.83,234.70 L457.75,235.20 L457.66,235.70 L457.56,236.20 L457.47,236.70 L457.38,237.20 L457.28,237.70 L457.18,238.20 L457.08,238.70 L456.97,239.20 L456.87,239.70 L456.76,240.20 L456.65,240.70 L456.54,241.20 L456.43,241.70 L456.31,242.20 L456.19,242.70 L456.07,243.20 L455.95,243.70 L455.83,244.20 L455.70,244.70 L455.58,245.20 L455.45,245.70 L455.31,246.20 L455.18,246.70 L455.04,247.20 L454.91,247.70 L454.77,248.20 L454.63,248.70 L454.48,249.20 L454.34,249.70 L454.20,250.20 L454.05,250.70 L453.91,251.20 L453.77,251.70 L453.63,252.20 L453.48,252.70 L453.35,253.20 L453.21,253.70 L453.07,254.20 L452.94,254.70 L452.81,255.20 L452.69,255.70 L452.57,256.20 L452.45,256.70 L452.33,257.20 L452.23,257.70 L452.12,258.20 L452.03,258.70 L451.93,259.20 L451.85,259.70 L451.77,260.20 L451.70,260.70 L451.63,261.20 L451.57,261.70 L451.53,262.20 L451.48,262.70 L451.45,263.20 L451.43,263.70 L451.42,264.20 L451.41,264.70 L451.42,265.20 L451.43,265.70 L451.46,266.20 L451.50,266.70 L451.55,267.20 L451.61,267.70 L451.69,268.20 L451.77,268.70 L451.87,269.20 L451.98,269.70 L452.10,270.20 L452.22,270.70 L452.36,271.20 L452.51,271.70 L452.67,272.20 L452.84,272.70 L453.02,273.20 L453.21,273.70 L453.40,274.20 L453.60,274.70 L453.81,275.20 L454.03,275.70 L454.26,276.20 L454.49,276.70 L454.73,277.20 L454.98,277.70 L455.23,278.20 L455.49,278.70 L455.75,279.20 L456.02,279.70 L456.30,280.20 L456.57,280.70 L456.86,281.20 L457.14,281.70 L457.44,282.20 L457.73,282.70 L458.03,283.20 L458.33,283.70 L458.63,284.20 L458.94,284.70 L459.25,285.20 L459.56,285.70 L459.87,286.20 L460.18,286.70 L460.50,287.20 L460.81,287.70 L461.13,288.20 L461.44,288.70 L461.76,289.20 L462.07,289.70 L462.38,290.20 L462.70,290.70 L463.01,291.20 L463.32,291.70 L463.63,292.20 L463.93,292.70 L464.23,293.20 L464.53,293.70 L464.83,294.20 L465.12,294.70 L465.41,295.20 L465.70,295.70 L465.98,296.20 L466.26,296.70 L466.53,297.20 L466.80,297.70 L467.06,298.20 L467.31,298.70 L467.56,299.20 L467.81,299.70 L468.05,300.20 L468.28,300.70 L468.50,301.20 L468.71,301.70 L468.92,302.20 L469.12,302.70 L469.31,303.20 L469.50,303.70 L469.67,304.20 L469.84,304.70 L469.99,305.20 L470.14,305.70 L470.28,306.20 L470.40,306.70 L470.52,307.20 L470.63,307.70 L470.72,308.20 L470.81,308.70 L470.88,309.20 L470.94,309.70 L470.99,310.20 L471.03,310.70 L471.06,311.20 L471.07,311.70 L471.07,312.20 L471.06,312.70 L471.03,313.20 L471.00,313.70 L470.94,314.20 L470.88,314.70 L470.80,315.20 L470.70,315.70 L470.60,316.20 L470.47,316.70 L470.33,317.20 L470.18,317.70 L470.01,318.20 L469.83,318.70 L469.62,319.20 L469.41,319.70 L469.17,320.20 L468.92,320.70 L468.65,321.20 L468.37,321.70 L468.07,322.20 L467.75,322.70 L467.41,323.20 L467.06,323.70 L466.69,324.20 L466.30,324.70 L465.90,325.20 L465.49,325.70 L465.06,326.20 L464.62,326.70 L464.17,327.20 L463.71,327.70 L463.23,328.20 L462.75,328.70 L462.26,329.20 L461.76,329.70 L461.26,330.20 L460.75,330.70 L460.23,331.20 L459.71,331.70 L459.18,332.20 L458.65,332.70 L458.12,333.20 L457.58,333.70 L457.05,334.20 L456.51,334.70 L455.97,335.20 L455.42,335.70 L454.88,336.20 L454.34,336.70 L453.80,337.20 L453.25,337.70 L452.71,338.20 L452.17,338.70 L451.63,339.20 L451.09,339.70 L450.55,340.20 L450.02,340.70 L449.49,341.20 L448.96,341.70 L448.43,342.20 L447.91,342.70 L447.39,343.20 L446.88,343.70 L446.37,344.20 L445.86,344.70 L445.36,345.20 L444.86,345.70 L444.37,346.20 L443.89,346.70 L443.41,347.20 L442.93,347.70 L442.46,348.20 L442.00,348.70 L441.55,349.20 L441.10,349.70 L440.65,350.20 L440.22,350.70 L439.79,351.20 L439.36,351.70 L438.95,352.20 L438.54,352.70 L438.14,353.20 L437.75,353.70 L437.37,354.20 L436.99,354.70 L436.63,355.20 L436.27,355.70 L435.92,356.20 L435.58,356.70 L435.25,357.20 L434.93,357.70 L434.62,358.20 L434.32,358.70 L434.03,359.20 L433.75,359.70 L433.48,360.20 L433.22,360.70 L432.97,361.20 L432.73,361.70 L432.50,362.20 L432.29,362.70 L432.08,363.20 L431.89,363.70 L431.71,364.20 L431.54,364.70 L431.38,365.20 L431.23,365.70 L431.09,366.20 L430.96,366.70 L430.85,367.20 L430.75,367.70 L430.65,368.20 L430.58,368.70 L430.51,369.20 L430.45,369.70 L430.41,370.20 L430.37,370.70 L430.35,371.20 L430.35,371.70 L430.35,372.00 L426.35,372.00 L426.35,371.70 L426.35,371.20 L426.33,370.70 L426.29,370.20 L426.25,369.70 L426.19,369.20 L426.12,368.70 L426.05,368.20 L425.95,367.70 L425.85,367.20 L425.74,366.70 L425.61,366.20 L425.47,365.70 L425.32,365.20 L425.16,364.70 L424.99,364.20 L424.81,363.70 L424.62,363.20 L424.41,362.70 L424.20,362.20 L423.97,361.70 L423.73,361.20 L423.48,360.70 L423.22,360.20 L422.95,359.70 L422.67,359.20 L422.38,358.70 L422.08,358.20 L421.77,357.70 L421.45,357.20 L421.12,356.70 L420.78,356.20 L420.43,355.70 L420.07,355.20 L419.71,354.70 L419.33,354.20 L418.95,353.70 L418.56,353.20 L418.16,352.70 L417.75,352.20 L417.34,351.70 L416.91,351.20 L416.48,350.70 L416.05,350.20 L415.60,349.70 L415.15,349.20 L414.70,348.70 L414.24,348.20 L413.77,347.70 L413.29,347.20 L412.81,346.70 L412.33,346.20 L411.84,345.70 L411.34,345.20 L410.84,344.70 L410.33,344.20 L409.82,343.70 L409.31,343.20 L408.79,342.70 L408.27,342.20 L407.74,341.70 L407.21,341.20 L406.68,340.70 L406.15,340.20 L405.61,339.70 L405.07,339.20 L404.53,338.70 L403.99,338.20 L403.45,337.70 L402.90,337.20 L402.36,336.70 L401.82,336.20 L401.28,335.70 L400.73,335.20 L400.19,334.70 L399.65,334.20 L399.12,333.70 L398.58,333.20 L398.05,332.70 L397.52,332.20 L396.99,331.70 L396.47,331.20 L395.95,330.70 L395.44,330.20 L394.94,329.70 L394.44,329.20 L393.95,328.70 L393.47,328.20 L392.99,327.70 L392.53,327.20 L392.08,326.70 L391.64,326.20 L391.21,325.70 L390.80,325.20 L390.40,324.70 L390.01,324.20 L389.64,323.70 L389.29,323.20 L388.95,322.70 L388.63,322.20 L388.33,321.70 L388.05,321.20 L387.78,320.70 L387.53,320.20 L387.29,319.70 L387.08,319.20 L386.87,318.70 L386.69,318.20 L386.52,317.70 L386.37,317.20 L386.23,316.70 L386.10,316.20 L386.00,315.70 L385.90,315.20 L385.82,314.70 L385.76,314.20 L385.70,313.70 L385.67,313.20 L385.64,312.70 L385.63,312.20 L385.63,311.70 L385.64,311.20 L385.67,310.70 L385.71,310.20 L385.76,309.70 L385.82,309.20 L385.89,308.70 L385.98,308.20 L386.07,307.70 L386.18,307.20 L386.30,306.70 L386.42,306.20 L386.56,305.70 L386.71,305.20 L386.86,304.70 L387.03,304.20 L387.20,303.70 L387.39,303.20 L387.58,302.70 L387.78,302.20 L387.99,301.70 L388.20,301.20 L388.42,300.70 L388.65,300.20 L388.89,299.70 L389.14,299.20 L389.39,298.70 L389.64,298.20 L389.90,297.70 L390.17,297.20 L390.44,296.70 L390.72,296.20 L391.00,295.70 L391.29,295.20 L391.58,294.70 L391.87,294.20 L392.17,293.70 L392.47,293.20 L392.77,292.70 L393.07,292.20 L393.38,291.70 L393.69,291.20 L394.00,290.70 L394.32,290.20 L394.63,289.70 L394.94,289.20 L395.26,288.70 L395.57,288.20 L395.89,287.70 L396.20,287.20 L396.52,286.70 L396.83,286.20 L397.14,285.70 L397.45,285.20 L397.76,284.70 L398.07,284.20 L398.37,283.70 L398.67,283.20 L398.97,282.70 L399.26,282.20 L399.56,281.70 L399.84,281.20 L400.13,280.70 L400.40,280.20 L400.68,279.70 L400.95,279.20 L401.21,278.70 L401.47,278.20 L401.72,277.70 L401.97,277.20 L402.21,276.70 L402.44,276.20 L402.67,275.70 L402.89,275.20 L403.10,274.70 L403.30,274.20 L403.49,273.70 L403.68,273.20 L403.86,272.70 L404.03,272.20 L404.19,271.70 L404.34,271.20 L404.48,270.70 L404.60,270.20 L404.72,269.70 L404.83,269.20 L404.93,268.70 L405.01,268.20 L405.09,267.70 L405.15,267.20 L405.20,266.70 L405.24,266.20 L405.27,265.70 L405.28,265.20 L405.29,264.70 L405.28,264.20 L405.27,263.70 L405.25,263.20 L405.22,262.70 L405.17,262.20 L405.13,261.70 L405.07,261.20 L405.00,260.70 L404.93,260.20 L404.85,259.70 L404.77,259.20 L404.67,258.70 L404.58,258.20 L404.47,257.70 L404.37,257.20 L404.25,256.70 L404.13,256.20 L404.01,255.70 L403.89,255.20 L403.76,254.70 L403.63,254.20 L403.49,253.70 L403.35,253.20 L403.22,252.70 L403.07,252.20 L402.93,251.70 L402.79,251.20 L402.65,250.70 L402.50,250.20 L402.36,249.70 L402.22,249.20 L402.07,248.70 L401.93,248.20 L401.79,247.70 L401.66,247.20 L401.52,246.70 L401.39,246.20 L401.25,245.70 L401.12,245.20 L401.00,244.70 L400.87,244.20 L400.75,243.70 L400.63,243.20 L400.51,242.70 L400.39,242.20 L400.27,241.70 L400.16,241.20 L400.05,240.70 L399.94,240.20 L399.83,239.70 L399.73,239.20 L399.62,238.70 L399.52,238.20 L399.42,237.70 L399.32,237.20 L399.23,236.70 L399.14,236.20 L399.04,235.70 L398.95,235.20 L398.87,234.70 L398.78,234.20 L398.70,233.70 L398.62,233.20 L398.54,232.70 L398.46,232.20 L398.38,231.70 L398.31,231.20 L398.24,230.70 L398.17,230.20 L398.10,229.70 L398.03,229.20 L397.97,228.70 L397.91,228.20 L397.85,227.70 L397.79,227.20 L397.73,226.70 L397.68,226.20 L397.63,225.70 L397.58,225.20 L397.53,224.70 L397.49,224.20 L397.44,223.70 L397.40,223.20 L397.36,222.70 L397.33,222.20 L397.29,221.70 L397.26,221.20 L397.23,220.70 L397.21,220.20 L397.18,219.70 L397.16,219.20 L397.15,218.70 L397.13,218.20 L397.12,217.70 L397.11,217.20 L397.10,216.70 L397.10,216.20 L397.10,215.70 L397.10,215.20 L397.11,214.70 L397.12,214.20 L397.13,213.70 L397.15,213.20 L397.17,212.70 L397.19,212.20 L397.21,211.70 L397.24,211.20 L397.28,210.70 L397.31,210.20 L397.35,209.70 L397.40,209.20 L397.44,208.70 L397.50,208.20 L397.55,207.70 L397.61,207.20 L397.67,206.70 L397.74,206.20 L397.81,205.70 L397.88,205.20 L397.96,204.70 L398.05,204.20 L398.13,203.70 L398.23,203.20 L398.32,202.70 L398.42,202.20 L398.53,201.70 L398.64,201.20 L398.75,200.70 L398.87,200.20 L398.99,199.70 L399.12,199.20 L399.25,198.70 L399.39,198.20 L399.53,197.70 L399.67,197.20 L399.82,196.70 L399.98,196.20 L400.14,195.70 L400.31,195.20 L400.48,194.70 L400.65,194.20 L400.84,193.70 L401.02,193.20 L401.21,192.70 L401.41,192.20 L401.61,191.70 L401.82,191.20 L402.03,190.70 L402.25,190.20 L402.47,189.70 L402.69,189.20 L402.92,188.70 L403.15,188.20 L403.39,187.70 L403.62,187.20 L403.86,186.70 L404.10,186.20 L404.34,185.70 L404.59,185.20 L404.83,184.70 L405.08,184.20 L405.33,183.70 L405.58,183.20 L405.82,182.70 L406.07,182.20 L406.32,181.70 L406.57,181.20 L406.81,180.70 L407.06,180.20 L407.30,179.70 L407.54,179.20 L407.78,178.70 L408.02,178.20 L408.25,177.70 L408.48,177.20 L408.71,176.70 L408.94,176.20 L409.16,175.70 L409.38,175.20 L409.59,174.70 L409.80,174.20 L410.00,173.70 L410.20,173.20 L410.40,172.70 L410.58,172.20 L410.77,171.70 L410.94,171.20 L411.11,170.70 L411.28,170.20 L411.44,169.70 L411.59,169.20 L411.74,168.70 L411.88,168.20 L412.02,167.70 L412.15,167.20 L412.28,166.70 L412.40,166.20 L412.51,165.70 L412.62,165.20 L412.72,164.70 L412.82,164.20 L412.91,163.70 L413.00,163.20 L413.08,162.70 L413.16,162.20 L413.23,161.70 L413.29,161.20 L413.35,160.70 L413.41,160.20 L413.45,159.70 L413.50,159.20 L413.53,158.70 L413.57,158.20 L413.59,157.70 L413.61,157.20 L413.63,156.70 L413.64,156.20 L413.64,155.70 L413.64,155.20 L413.64,154.70 L413.63,154.20 L413.61,153.70 L413.59,153.20 L413.56,152.70 L413.53,152.20 L413.49,151.70 L413.45,151.20 L413.40,150.70 L413.35,150.20 L413.29,149.70 L413.23,149.20 L413.17,148.70 L413.11,148.20 L413.04,147.70 L412.97,147.20 L412.90,146.70 L412.83,146.20 L412.76,145.70 L412.69,145.20 L412.61,144.70 L412.54,144.20 L412.47,143.70 L412.40,143.20 L412.33,142.70 L412.26,142.20 L412.19,141.70 L412.12,141.20 L412.06,140.70 L412.00,140.20 L411.94,139.70 L411.89,139.20 L411.84,138.70 L411.80,138.20 L411.75,137.70 L411.72,137.20 L411.69,136.70 L411.66,136.20 L411.64,135.70 L411.63,135.20 L411.62,134.70 L411.62,134.20 L411.63,133.70 L411.65,133.20 L411.67,132.70 L411.70,132.20 L411.74,131.70 L411.79,131.20 L411.85,130.70 L411.91,130.20 L411.98,129.70 L412.06,129.20 L412.15,128.70 L412.24,128.20 L412.34,127.70 L412.44,127.20 L412.55,126.70 L412.67,126.20 L412.79,125.70 L412.92,125.20 L413.05,124.70 L413.19,124.20 L413.33,123.70 L413.47,123.20 L413.62,122.70 L413.77,122.20 L413.93,121.70 L414.09,121.20 L414.25,120.70 L414.42,120.20 L414.59,119.70 L414.76,119.20 L414.93,118.70 L415.10,118.20 L415.28,117.70 L415.46,117.20 L415.64,116.70 L415.81,116.20 L415.99,115.70 L416.18,115.20 L416.36,114.70 L416.54,114.20 L416.72,113.70 L416.90,113.20 L417.07,112.70 L417.25,112.20 L417.43,111.70 L417.60,111.20 L417.78,110.70 L417.95,110.20 L418.12,109.70 L418.29,109.20 L418.46,108.70 L418.63,108.20 L418.80,107.70 L418.96,107.20 L419.13,106.70 L419.29,106.20 L419.46,105.70 L419.62,105.20 L419.78,104.70 L419.94,104.20 L420.10,103.70 L420.25,103.20 L420.41,102.70 L420.56,102.20 L420.72,101.70 L420.87,101.20 L421.02,100.70 L421.17,100.20 L421.32,99.70 L421.47,99.20 L421.62,98.70 L421.76,98.20 L421.91,97.70 L422.05,97.20 L422.19,96.70 L422.33,96.20 L422.47,95.70 L422.61,95.20 L422.75,94.70 L422.89,94.20 L423.03,93.70 L423.16,93.20 L423.29,92.70 L423.43,92.20 L423.56,91.70 L423.69,91.20 L423.82,90.70 L423.95,90.20 L424.07,89.70 L424.20,89.20 L424.32,88.70 L424.45,88.20 L424.57,87.70 L424.69,87.20 L424.81,86.70 L424.93,86.20 L425.05,85.70 L425.17,85.20 L425.29,84.70 L425.40,84.20 L425.51,83.70 L425.63,83.20 L425.74,82.70 L425.85,82.20 L425.96,81.70 L426.07,81.20 L426.18,80.70 L426.28,80.20 L426.39,79.70 L426.50,79.20 L426.60,78.70 L426.70,78.20 L426.80,77.70 L426.90,77.20 L427.00,76.70 L427.10,76.20 Z" fill="#689C9C" stroke="#000" stroke-width="1.3" stroke-linejoin="round"/>
<line x1="428.35" y1="96.50" x2="428.35" y2="353.50" stroke="#000" stroke-width="1.5"/>
<rect x="424.85" y="196.80" width="7" height="110.90" fill="#000"/>
<circle cx="428.35" cy="246.80" r="2.4" fill="#fff"/>
<line x1="53.7" y1="50.5" x2="53.7" y2="397.3" stroke="#000" stroke-width="1.6"/>
<line x1="52.9" y1="396.6" x2="482.5" y2="396.6" stroke="#000" stroke-width="1.6"/>
<line x1="47" y1="397.00" x2="53.7" y2="397.00" stroke="#000" stroke-width="1.4"/>
<text x="42.6" y="402.30" font-family="Liberation Serif" font-size="15" text-anchor="end" fill="#222">20</text>
<line x1="50.6" y1="372.30" x2="53.7" y2="372.30" stroke="#000" stroke-width="1.4"/>
<line x1="47" y1="347.60" x2="53.7" y2="347.60" stroke="#000" stroke-width="1.4"/>
<text x="42.6" y="352.90" font-family="Liberation Serif" font-size="15" text-anchor="end" fill="#222">30</text>
<line x1="50.6" y1="322.90" x2="53.7" y2="322.90" stroke="#000" stroke-width="1.4"/>
<line x1="47" y1="298.20" x2="53.7" y2="298.20" stroke="#000" stroke-width="1.4"/>
<text x="42.6" y="303.50" font-family="Liberation Serif" font-size="15" text-anchor="end" fill="#222">40</text>
<line x1="50.6" y1="273.50" x2="53.7" y2="273.50" stroke="#000" stroke-width="1.4"/>
<line x1="47" y1="248.80" x2="53.7" y2="248.80" stroke="#000" stroke-width="1.4"/>
<text x="42.6" y="254.10" font-family="Liberation Serif" font-size="15" text-anchor="end" fill="#222">50</text>
<line x1="50.6" y1="224.10" x2="53.7" y2="224.10" stroke="#000" stroke-width="1.4"/>
<line x1="47" y1="199.40" x2="53.7" y2="199.40" stroke="#000" stroke-width="1.4"/>
<text x="42.6" y="204.70" font-family="Liberation Serif" font-size="15" text-anchor="end" fill="#222">60</text>
<line x1="50.6" y1="174.70" x2="53.7" y2="174.70" stroke="#000" stroke-width="1.4"/>
<line x1="47" y1="150.00" x2="53.7" y2="150.00" stroke="#000" stroke-width="1.4"/>
<text x="42.6" y="155.30" font-family="Liberation Serif" font-size="15" text-anchor="end" fill="#222">70</text>
<line x1="50.6" y1="125.30" x2="53.7" y2="125.30" stroke="#000" stroke-width="1.4"/>
<line x1="47" y1="100.60" x2="53.7" y2="100.60" stroke="#000" stroke-width="1.4"/>
<text x="42.6" y="105.90" font-family="Liberation Serif" font-size="15" text-anchor="end" fill="#222">80</text>
<line x1="50.6" y1="75.90" x2="53.7" y2="75.90" stroke="#000" stroke-width="1.4"/>
<line x1="47" y1="51.20" x2="53.7" y2="51.20" stroke="#000" stroke-width="1.4"/>
<text x="42.6" y="56.50" font-family="Liberation Serif" font-size="15" text-anchor="end" fill="#222">90</text>
<line x1="107.30" y1="396.5" x2="107.30" y2="403" stroke="#000" stroke-width="1.5"/>
<line x1="214.35" y1="396.5" x2="214.35" y2="403" stroke="#000" stroke-width="1.5"/>
<line x1="321.40" y1="396.5" x2="321.40" y2="403" stroke="#000" stroke-width="1.5"/>
<line x1="428.35" y1="396.5" x2="428.35" y2="403" stroke="#000" stroke-width="1.5"/>
<text transform="translate(90.61,419.20) scale(0.593,1)" font-family="Liberation Serif" font-size="13.00" fill="#333">W</text><text transform="translate(97.14,419.20) scale(1.250,1)" font-family="Liberation Serif" font-size="13.00" fill="#333">a</text><text transform="translate(104.99,419.20) scale(1.250,1)" font-family="Liberation Serif" font-size="13.00" fill="#333">t</text><text transform="translate(110.14,419.20) scale(1.250,1)" font-family="Liberation Serif" font-size="13.00" fill="#333">e</text><text transform="translate(117.54,419.20) scale(1.250,1)" font-family="Liberation Serif" font-size="13.00" fill="#333">r</text>
<text transform="translate(71.01,433.40) scale(1.007,1)" font-family="Liberation Serif" font-size="13.00" fill="#333">S</text><text transform="translate(77.54,433.40) scale(1.250,1)" font-family="Liberation Serif" font-size="13.00" fill="#333">a</text><text transform="translate(85.39,433.40) scale(1.250,1)" font-family="Liberation Serif" font-size="13.00" fill="#333">t</text><text transform="translate(90.51,433.40) scale(1.120,1)" font-family="Liberation Serif" font-size="13.00" fill="#333">u</text><text transform="translate(97.94,433.40) scale(1.250,1)" font-family="Liberation Serif" font-size="13.00" fill="#333">r</text><text transform="translate(103.54,433.40) scale(1.250,1)" font-family="Liberation Serif" font-size="13.00" fill="#333">a</text><text transform="translate(111.39,433.40) scale(1.250,1)" font-family="Liberation Serif" font-size="13.00" fill="#333">t</text><text transform="translate(117.89,433.40) scale(1.250,1)" font-family="Liberation Serif" font-size="13.00" fill="#333">i</text><text transform="translate(123.01,433.40) scale(1.120,1)" font-family="Liberation Serif" font-size="13.00" fill="#333">o</text><text transform="translate(129.51,433.40) scale(1.120,1)" font-family="Liberation Serif" font-size="13.00" fill="#333">n</text>
<text transform="translate(72.34,447.60) scale(1.250,1)" font-family="Liberation Serif" font-size="13.00" fill="#333">f</text><text transform="translate(78.84,447.60) scale(1.250,1)" font-family="Liberation Serif" font-size="13.00" fill="#333">r</text><text transform="translate(84.41,447.60) scale(1.120,1)" font-family="Liberation Serif" font-size="13.00" fill="#333">o</text><text transform="translate(90.91,447.60) scale(0.720,1)" font-family="Liberation Serif" font-size="13.00" fill="#333">m</text><text transform="translate(103.91,447.60) scale(1.007,1)" font-family="Liberation Serif" font-size="13.00" fill="#333">S</text><text transform="translate(110.44,447.60) scale(1.250,1)" font-family="Liberation Serif" font-size="13.00" fill="#333">e</text><text transform="translate(116.94,447.60) scale(1.250,1)" font-family="Liberation Serif" font-size="13.00" fill="#333">a</text><text transform="translate(124.79,447.60) scale(1.250,1)" font-family="Liberation Serif" font-size="13.00" fill="#333">l</text><text transform="translate(129.94,447.60) scale(1.250,1)" font-family="Liberation Serif" font-size="13.00" fill="#333">e</text><text transform="translate(136.41,447.60) scale(1.120,1)" font-family="Liberation Serif" font-size="13.00" fill="#333">d</text>
<text transform="translate(64.51,461.70) scale(0.840,1)" font-family="Liberation Serif" font-size="13.00" fill="#333">C</text><text transform="translate(71.01,461.70) scale(1.120,1)" font-family="Liberation Serif" font-size="13.00" fill="#333">o</text><text transform="translate(78.44,461.70) scale(1.250,1)" font-family="Liberation Serif" font-size="13.00" fill="#333">r</text><text transform="translate(84.04,461.70) scale(1.250,1)" font-family="Liberation Serif" font-size="13.00" fill="#333">e</text><text transform="translate(97.01,461.70) scale(0.775,1)" font-family="Liberation Serif" font-size="13.00" fill="#333">A</text><text transform="translate(103.51,461.70) scale(1.120,1)" font-family="Liberation Serif" font-size="13.00" fill="#333">n</text><text transform="translate(110.04,461.70) scale(1.250,1)" font-family="Liberation Serif" font-size="13.00" fill="#333">a</text><text transform="translate(117.89,461.70) scale(1.250,1)" font-family="Liberation Serif" font-size="13.00" fill="#333">l</text><text transform="translate(123.01,461.70) scale(1.120,1)" font-family="Liberation Serif" font-size="13.00" fill="#333">y</text><text transform="translate(129.99,461.70) scale(1.250,1)" font-family="Liberation Serif" font-size="13.00" fill="#333">s</text><text transform="translate(137.39,461.70) scale(1.250,1)" font-family="Liberation Serif" font-size="13.00" fill="#333">i</text><text transform="translate(142.99,461.70) scale(1.250,1)" font-family="Liberation Serif" font-size="13.00" fill="#333">s</text>
<text transform="translate(175.21,419.20) scale(1.007,1)" font-family="Liberation Serif" font-size="13.00" fill="#333">P</text><text transform="translate(181.71,419.20) scale(1.007,1)" font-family="Liberation Serif" font-size="13.00" fill="#333">S</text><text transform="translate(188.21,419.20) scale(0.775,1)" font-family="Liberation Serif" font-size="13.00" fill="#333">O</text><text transform="translate(194.71,419.20) scale(0.993,1)" font-family="Liberation Serif" font-size="13.00" fill="#333">+</text><text transform="translate(201.21,419.20) scale(0.917,1)" font-family="Liberation Serif" font-size="13.00" fill="#333">L</text><text transform="translate(209.09,419.20) scale(1.250,1)" font-family="Liberation Serif" font-size="13.00" fill="#333">i</text><text transform="translate(214.21,419.20) scale(1.120,1)" font-family="Liberation Serif" font-size="13.00" fill="#333">g</text><text transform="translate(220.71,419.20) scale(1.120,1)" font-family="Liberation Serif" font-size="13.00" fill="#333">h</text><text transform="translate(228.59,419.20) scale(1.250,1)" font-family="Liberation Serif" font-size="13.00" fill="#333">t</text><text transform="translate(233.71,419.20) scale(1.120,1)" font-family="Liberation Serif" font-size="13.00" fill="#333">g</text><text transform="translate(240.21,419.20) scale(1.120,1)" font-family="Liberation Serif" font-size="13.00" fill="#333">b</text><text transform="translate(246.71,419.20) scale(0.720,1)" font-family="Liberation Serif" font-size="13.00" fill="#333">m</text>
<text transform="translate(285.21,419.20) scale(1.007,1)" font-family="Liberation Serif" font-size="13.00" fill="#333">P</text><text transform="translate(291.71,419.20) scale(1.007,1)" font-family="Liberation Serif" font-size="13.00" fill="#333">S</text><text transform="translate(298.21,419.20) scale(0.775,1)" font-family="Liberation Serif" font-size="13.00" fill="#333">O</text><text transform="translate(304.71,419.20) scale(0.993,1)" font-family="Liberation Serif" font-size="13.00" fill="#333">+</text><text transform="translate(311.21,419.20) scale(0.775,1)" font-family="Liberation Serif" font-size="13.00" fill="#333">X</text><text transform="translate(317.71,419.20) scale(0.775,1)" font-family="Liberation Serif" font-size="13.00" fill="#333">G</text><text transform="translate(324.21,419.20) scale(0.840,1)" font-family="Liberation Serif" font-size="13.00" fill="#333">B</text><text transform="translate(330.71,419.20) scale(0.775,1)" font-family="Liberation Serif" font-size="13.00" fill="#333">O</text><text transform="translate(337.21,419.20) scale(0.775,1)" font-family="Liberation Serif" font-size="13.00" fill="#333">O</text><text transform="translate(343.71,419.20) scale(1.007,1)" font-family="Liberation Serif" font-size="13.00" fill="#333">S</text><text transform="translate(350.21,419.20) scale(0.917,1)" font-family="Liberation Serif" font-size="13.00" fill="#333">T</text>
<text transform="translate(401.81,419.20) scale(1.007,1)" font-family="Liberation Serif" font-size="13.00" fill="#333">P</text><text transform="translate(408.31,419.20) scale(1.007,1)" font-family="Liberation Serif" font-size="13.00" fill="#333">S</text><text transform="translate(414.81,419.20) scale(0.775,1)" font-family="Liberation Serif" font-size="13.00" fill="#333">O</text><text transform="translate(421.31,419.20) scale(0.993,1)" font-family="Liberation Serif" font-size="13.00" fill="#333">+</text><text transform="translate(427.81,419.20) scale(0.630,1)" font-family="Liberation Serif" font-size="13.00" fill="#333">M</text><text transform="translate(434.31,419.20) scale(0.917,1)" font-family="Liberation Serif" font-size="13.00" fill="#333">E</text><text transform="translate(440.81,419.20) scale(0.840,1)" font-family="Liberation Serif" font-size="13.00" fill="#333">R</text><text transform="translate(447.31,419.20) scale(1.007,1)" font-family="Liberation Serif" font-size="13.00" fill="#333">F</text>
<g transform="translate(0,317.6) rotate(-90)" stroke="#222" stroke-width="0.2"><text transform="translate(-0.54,21.40) scale(0.645,1)" font-family="Liberation Serif" font-size="16.50" fill="#222">W</text><text transform="translate(8.88,21.40) scale(1.250,1)" font-family="Liberation Serif" font-size="16.50" fill="#222">a</text><text transform="translate(19.56,21.40) scale(1.250,1)" font-family="Liberation Serif" font-size="16.50" fill="#222">t</text><text transform="translate(26.82,21.40) scale(1.250,1)" font-family="Liberation Serif" font-size="16.50" fill="#222">e</text><text transform="translate(36.93,21.40) scale(1.250,1)" font-family="Liberation Serif" font-size="16.50" fill="#222">r</text><text transform="translate(54.29,21.40) scale(1.250,1)" font-family="Liberation Serif" font-size="16.50" fill="#222">s</text><text transform="translate(62.70,21.40) scale(1.250,1)" font-family="Liberation Serif" font-size="16.50" fill="#222">a</text><text transform="translate(73.38,21.40) scale(1.250,1)" font-family="Liberation Serif" font-size="16.50" fill="#222">t</text><text transform="translate(80.19,21.40) scale(1.218,1)" font-family="Liberation Serif" font-size="16.50" fill="#222">u</text><text transform="translate(90.75,21.40) scale(1.250,1)" font-family="Liberation Serif" font-size="16.50" fill="#222">r</text><text transform="translate(98.58,21.40) scale(1.250,1)" font-family="Liberation Serif" font-size="16.50" fill="#222">a</text><text transform="translate(109.26,21.40) scale(1.250,1)" font-family="Liberation Serif" font-size="16.50" fill="#222">t</text><text transform="translate(118.23,21.40) scale(1.250,1)" font-family="Liberation Serif" font-size="16.50" fill="#222">i</text><text transform="translate(125.04,21.40) scale(1.218,1)" font-family="Liberation Serif" font-size="16.50" fill="#222">o</text><text transform="translate(134.01,21.40) scale(1.218,1)" font-family="Liberation Serif" font-size="16.50" fill="#222">n</text></g>
<g transform="translate(0,317.6) rotate(-90)" stroke="#222" stroke-width="0.2"><text transform="translate(152.3,19.04) scale(1.5,1)" font-size="15.8" font-family="Liberation Serif" fill="#222">(</text><text transform="translate(160.5,20.8) scale(0.67,1)" font-size="17" font-family="Liberation Serif" fill="#222">%</text><text transform="translate(171.04,19.04) scale(1.5,1)" font-size="15.8" font-family="Liberation Serif" fill="#222">)</text></g>
<rect x="358.2" y="7.5" width="186.3" height="51.6" fill="#fff" stroke="#7a7a7a" stroke-width="1"/>
<rect x="359.9" y="9.1" width="26.1" height="13.3" fill="#000"/>
<text transform="translate(392.41,20.20) scale(1.120,1)" font-family="Liberation Serif" font-size="13.00" fill="#333">2</text><text transform="translate(398.91,20.20) scale(1.120,1)" font-family="Liberation Serif" font-size="13.00" fill="#333">5</text><text transform="translate(405.41,20.20) scale(0.672,1)" font-family="Liberation Serif" font-size="13.00" fill="#333">%</text><text transform="translate(412.84,20.20) scale(1.250,1)" font-family="Liberation Serif" font-size="13.00" fill="#333">˜</text><text transform="translate(418.41,20.20) scale(1.120,1)" font-family="Liberation Serif" font-size="13.00" fill="#333">7</text><text transform="translate(424.91,20.20) scale(1.120,1)" font-family="Liberation Serif" font-size="13.00" fill="#333">5</text><text transform="translate(431.41,20.20) scale(0.672,1)" font-family="Liberation Serif" font-size="13.00" fill="#333">%</text>
<path d="M368.8,24.3 H377.6 M373.1,24.3 V36.1 M368.8,36.1 H377.6" stroke="#000" stroke-width="1.5" fill="none"/>
<text transform="translate(386.01,34.70) scale(0.917,1)" font-family="Liberation Serif" font-size="13.00" fill="#333">T</text><text transform="translate(392.51,34.70) scale(1.120,1)" font-family="Liberation Serif" font-size="13.00" fill="#333">h</text><text transform="translate(399.04,34.70) scale(1.250,1)" font-family="Liberation Serif" font-size="13.00" fill="#333">e</text><text transform="translate(412.94,34.70) scale(1.250,1)" font-family="Liberation Serif" font-size="13.00" fill="#333">r</text><text transform="translate(418.54,34.70) scale(1.250,1)" font-family="Liberation Serif" font-size="13.00" fill="#333">a</text><text transform="translate(425.01,34.70) scale(1.120,1)" font-family="Liberation Serif" font-size="13.00" fill="#333">n</text><text transform="translate(431.51,34.70) scale(1.120,1)" font-family="Liberation Serif" font-size="13.00" fill="#333">g</text><text transform="translate(438.04,34.70) scale(1.250,1)" font-family="Liberation Serif" font-size="13.00" fill="#333">e</text><text transform="translate(451.01,34.70) scale(0.775,1)" font-family="Liberation Serif" font-size="13.00" fill="#333">w</text><text transform="translate(458.89,34.70) scale(1.250,1)" font-family="Liberation Serif" font-size="13.00" fill="#333">i</text><text transform="translate(465.39,34.70) scale(1.250,1)" font-family="Liberation Serif" font-size="13.00" fill="#333">t</text><text transform="translate(470.51,34.70) scale(1.120,1)" font-family="Liberation Serif" font-size="13.00" fill="#333">h</text><text transform="translate(478.39,34.70) scale(1.250,1)" font-family="Liberation Serif" font-size="13.00" fill="#333">i</text><text transform="translate(483.51,34.70) scale(1.120,1)" font-family="Liberation Serif" font-size="13.00" fill="#333">n</text><text transform="translate(496.51,34.70) scale(1.120,1)" font-family="Liberation Serif" font-size="13.00" fill="#333">1</text><text transform="translate(504.62,34.70) scale(1.250,1)" font-family="Liberation Serif" font-size="13.00" fill="#333">.</text><text transform="translate(509.51,34.70) scale(1.120,1)" font-family="Liberation Serif" font-size="13.00" fill="#333">5</text><text transform="translate(523.44,34.70) scale(1.250,1)" font-family="Liberation Serif" font-size="13.00" fill="#333">I</text><text transform="translate(529.01,34.70) scale(0.775,1)" font-family="Liberation Serif" font-size="13.00" fill="#333">Q</text><text transform="translate(535.51,34.70) scale(0.840,1)" font-family="Liberation Serif" font-size="13.00" fill="#333">R</text>
<circle cx="373" cy="44.3" r="2.5" fill="#fff" stroke="#666" stroke-width="0.9"/>
<text transform="translate(385.81,48.60) scale(0.720,1)" font-family="Liberation Serif" font-size="13.00" fill="#333">m</text><text transform="translate(392.34,48.60) scale(1.250,1)" font-family="Liberation Serif" font-size="13.00" fill="#333">e</text><text transform="translate(398.81,48.60) scale(1.120,1)" font-family="Liberation Serif" font-size="13.00" fill="#333">d</text><text transform="translate(406.69,48.60) scale(1.250,1)" font-family="Liberation Serif" font-size="13.00" fill="#333">i</text><text transform="translate(411.84,48.60) scale(1.250,1)" font-family="Liberation Serif" font-size="13.00" fill="#333">a</text><text transform="translate(418.31,48.60) scale(1.120,1)" font-family="Liberation Serif" font-size="13.00" fill="#333">n</text>
</svg>
</body></html>
